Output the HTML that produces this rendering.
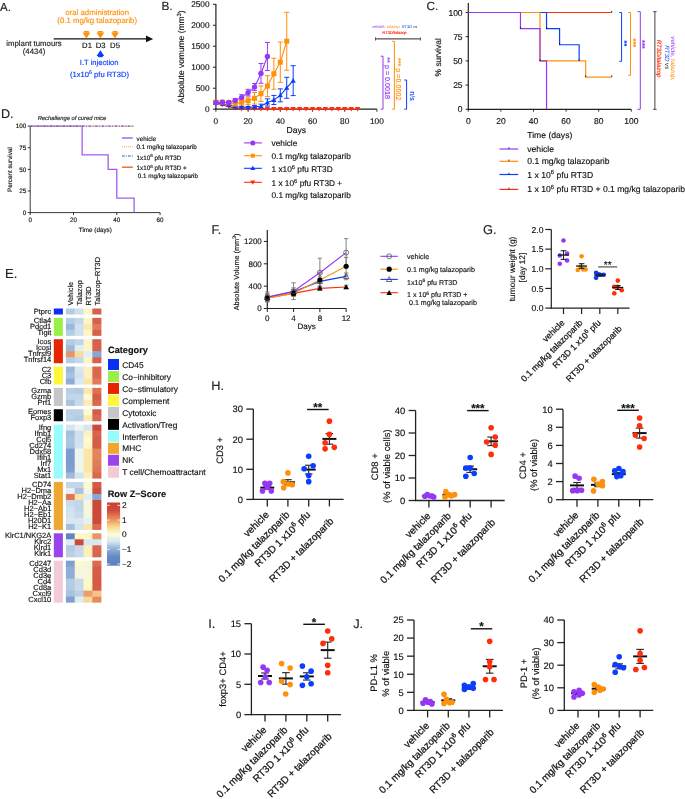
<!DOCTYPE html>
<html><head><meta charset="utf-8"><title>Figure</title>
<style>
html,body{margin:0;padding:0;background:#fff;}
body{width:685px;height:799px;overflow:hidden;font-family:"Liberation Sans",sans-serif;}
svg{display:block;will-change:transform;}
</style></head><body>
<svg width="685" height="799" viewBox="0 0 685 799" font-family="Liberation Sans, sans-serif" text-rendering="geometricPrecision">
<text x="0.00" y="11.20" font-size="11.5" fill="#222" stroke="#222" stroke-width="0.15">A.</text>
<text x="97.20" y="14.90" font-size="7.8" fill="#FF900A" stroke="#FF900A" stroke-width="0.15" text-anchor="middle">oral administration</text>
<text x="97.20" y="23.30" font-size="7.8" fill="#FF900A" stroke="#FF900A" stroke-width="0.15" text-anchor="middle">(0.1 mg/kg talazoparib)</text>
<line x1="53.70" y1="38.90" x2="147.50" y2="38.90" stroke="#111" stroke-width="1.3" />
<polygon points="146.00,35.60 153.20,38.90 146.00,42.20" fill="#111" stroke="none" stroke-width="0"/>
<polygon points="82.50,32.40 90.30,32.40 86.40,38.60" fill="#FF900A" stroke="none" stroke-width="0"/>
<rect x="84.00" y="31.00" width="4.80" height="1.60" fill="#FF900A"/>
<polygon points="96.50,32.40 104.30,32.40 100.40,38.60" fill="#FF900A" stroke="none" stroke-width="0"/>
<rect x="98.00" y="31.00" width="4.80" height="1.60" fill="#FF900A"/>
<polygon points="111.10,32.40 118.90,32.40 115.00,38.60" fill="#FF900A" stroke="none" stroke-width="0"/>
<rect x="112.60" y="31.00" width="4.80" height="1.60" fill="#FF900A"/>
<text x="87.00" y="48.20" font-size="7.7" fill="#111" stroke="#111" stroke-width="0.15" text-anchor="middle">D1</text>
<text x="100.60" y="48.20" font-size="7.7" fill="#111" stroke="#111" stroke-width="0.15" text-anchor="middle">D3</text>
<text x="115.00" y="48.20" font-size="7.7" fill="#111" stroke="#111" stroke-width="0.15" text-anchor="middle">D5</text>
<text x="34.00" y="46.30" font-size="7.8" fill="#222" stroke="#222" stroke-width="0.15" text-anchor="middle">implant tumours</text>
<text x="34.00" y="54.30" font-size="7.8" fill="#222" stroke="#222" stroke-width="0.15" text-anchor="middle">(4434)</text>
<polygon points="96.60,56.00 104.20,56.00 100.40,50.20" fill="#0B3DFF" stroke="none" stroke-width="0"/>
<rect x="98.00" y="55.60" width="4.80" height="1.60" fill="#0B3DFF"/>
<text x="99.20" y="65.20" font-size="7.6" fill="#0B3DFF" stroke="#0B3DFF" stroke-width="0.15" text-anchor="middle">I.T injection</text>
<text x="99.50" y="76.60" font-size="7.6" fill="#0B3DFF" stroke="#0B3DFF" stroke-width="0.15" text-anchor="middle">(1x10<tspan font-size="5.32" dy="-2.89">6</tspan><tspan dy="2.89"> pfu RT3D)</tspan></text>
<text x="161.50" y="10.20" font-size="11.8" fill="#222" stroke="#222" stroke-width="0.15">B.</text>
<line x1="215.90" y1="4.00" x2="215.90" y2="109.80" stroke="#222" stroke-width="1.2" />
<line x1="215.30" y1="109.20" x2="376.90" y2="109.20" stroke="#222" stroke-width="1.2" />
<line x1="212.90" y1="109.20" x2="215.90" y2="109.20" stroke="#222" stroke-width="1.0" />
<text x="209.60" y="112.10" font-size="8.3" fill="#111" stroke="#111" stroke-width="0.15" text-anchor="end">0</text>
<line x1="212.90" y1="88.22" x2="215.90" y2="88.22" stroke="#222" stroke-width="1.0" />
<text x="209.60" y="91.12" font-size="8.3" fill="#111" stroke="#111" stroke-width="0.15" text-anchor="end">500</text>
<line x1="212.90" y1="67.24" x2="215.90" y2="67.24" stroke="#222" stroke-width="1.0" />
<text x="209.60" y="70.14" font-size="8.3" fill="#111" stroke="#111" stroke-width="0.15" text-anchor="end">1000</text>
<line x1="212.90" y1="46.26" x2="215.90" y2="46.26" stroke="#222" stroke-width="1.0" />
<text x="209.60" y="49.16" font-size="8.3" fill="#111" stroke="#111" stroke-width="0.15" text-anchor="end">1500</text>
<line x1="212.90" y1="25.28" x2="215.90" y2="25.28" stroke="#222" stroke-width="1.0" />
<text x="209.60" y="28.18" font-size="8.3" fill="#111" stroke="#111" stroke-width="0.15" text-anchor="end">2000</text>
<line x1="212.90" y1="4.30" x2="215.90" y2="4.30" stroke="#222" stroke-width="1.0" />
<text x="209.60" y="7.20" font-size="8.3" fill="#111" stroke="#111" stroke-width="0.15" text-anchor="end">2500</text>
<line x1="215.90" y1="109.20" x2="215.90" y2="111.80" stroke="#222" stroke-width="0.9" />
<text x="215.90" y="123.50" font-size="8.3" fill="#111" stroke="#111" stroke-width="0.15" text-anchor="middle">0</text>
<line x1="248.10" y1="109.20" x2="248.10" y2="111.80" stroke="#222" stroke-width="0.9" />
<text x="248.10" y="123.50" font-size="8.3" fill="#111" stroke="#111" stroke-width="0.15" text-anchor="middle">20</text>
<line x1="280.30" y1="109.20" x2="280.30" y2="111.80" stroke="#222" stroke-width="0.9" />
<text x="280.30" y="123.50" font-size="8.3" fill="#111" stroke="#111" stroke-width="0.15" text-anchor="middle">40</text>
<line x1="312.50" y1="109.20" x2="312.50" y2="111.80" stroke="#222" stroke-width="0.9" />
<text x="312.50" y="123.50" font-size="8.3" fill="#111" stroke="#111" stroke-width="0.15" text-anchor="middle">60</text>
<line x1="344.70" y1="109.20" x2="344.70" y2="111.80" stroke="#222" stroke-width="0.9" />
<text x="344.70" y="123.50" font-size="8.3" fill="#111" stroke="#111" stroke-width="0.15" text-anchor="middle">80</text>
<line x1="376.90" y1="109.20" x2="376.90" y2="111.80" stroke="#222" stroke-width="0.9" />
<text x="376.90" y="123.50" font-size="8.3" fill="#111" stroke="#111" stroke-width="0.15" text-anchor="middle">100</text>
<text x="296.30" y="133.00" font-size="8.6" fill="#111" stroke="#111" stroke-width="0.15" text-anchor="middle">Days</text>
<text x="184.20" y="56.80" font-size="8.45" fill="#111" stroke="#111" stroke-width="0.15" text-anchor="middle" transform="rotate(-90 184.20 56.80)">Absolute vomume (mm<tspan font-size="5.91" dy="-3.20">3</tspan><tspan dy="3.20">)</tspan></text>
<polyline points="215.90,102.91 222.34,105.00 228.78,106.68 235.22,108.36 241.66,109.20 248.10,109.20 254.54,109.20 260.98,109.20 267.42,109.20 273.86,109.20 280.30,109.20 286.74,109.20 293.18,109.20 299.62,109.20 306.06,109.20 312.50,109.20 318.94,109.20 325.38,109.20 331.82,109.20 338.26,109.20 344.70,109.20 351.14,109.20 357.58,109.20" fill="none" stroke="#FF2D0A" stroke-width="1.1"/>
<polyline points="215.90,102.91 222.34,103.75 228.78,105.00 235.22,106.68 241.66,107.31 248.10,107.31 254.54,106.89 260.98,106.26 267.42,102.49 273.86,99.97 280.30,95.35 286.74,87.80 293.18,80.67" fill="none" stroke="#0B3DFF" stroke-width="1.1"/>
<line x1="215.90" y1="102.07" x2="215.90" y2="103.75" stroke="#0B3DFF" stroke-width="1.0" />
<line x1="213.40" y1="102.07" x2="218.40" y2="102.07" stroke="#0B3DFF" stroke-width="1.0" />
<line x1="213.40" y1="103.75" x2="218.40" y2="103.75" stroke="#0B3DFF" stroke-width="1.0" />
<line x1="222.34" y1="102.91" x2="222.34" y2="104.58" stroke="#0B3DFF" stroke-width="1.0" />
<line x1="219.84" y1="102.91" x2="224.84" y2="102.91" stroke="#0B3DFF" stroke-width="1.0" />
<line x1="219.84" y1="104.58" x2="224.84" y2="104.58" stroke="#0B3DFF" stroke-width="1.0" />
<line x1="228.78" y1="104.16" x2="228.78" y2="105.84" stroke="#0B3DFF" stroke-width="1.0" />
<line x1="226.28" y1="104.16" x2="231.28" y2="104.16" stroke="#0B3DFF" stroke-width="1.0" />
<line x1="226.28" y1="105.84" x2="231.28" y2="105.84" stroke="#0B3DFF" stroke-width="1.0" />
<line x1="235.22" y1="105.84" x2="235.22" y2="107.52" stroke="#0B3DFF" stroke-width="1.0" />
<line x1="232.72" y1="105.84" x2="237.72" y2="105.84" stroke="#0B3DFF" stroke-width="1.0" />
<line x1="232.72" y1="107.52" x2="237.72" y2="107.52" stroke="#0B3DFF" stroke-width="1.0" />
<line x1="241.66" y1="106.47" x2="241.66" y2="108.15" stroke="#0B3DFF" stroke-width="1.0" />
<line x1="239.16" y1="106.47" x2="244.16" y2="106.47" stroke="#0B3DFF" stroke-width="1.0" />
<line x1="239.16" y1="108.15" x2="244.16" y2="108.15" stroke="#0B3DFF" stroke-width="1.0" />
<line x1="248.10" y1="106.47" x2="248.10" y2="108.15" stroke="#0B3DFF" stroke-width="1.0" />
<line x1="245.60" y1="106.47" x2="250.60" y2="106.47" stroke="#0B3DFF" stroke-width="1.0" />
<line x1="245.60" y1="108.15" x2="250.60" y2="108.15" stroke="#0B3DFF" stroke-width="1.0" />
<line x1="254.54" y1="105.63" x2="254.54" y2="108.15" stroke="#0B3DFF" stroke-width="1.0" />
<line x1="252.04" y1="105.63" x2="257.04" y2="105.63" stroke="#0B3DFF" stroke-width="1.0" />
<line x1="252.04" y1="108.15" x2="257.04" y2="108.15" stroke="#0B3DFF" stroke-width="1.0" />
<line x1="260.98" y1="104.16" x2="260.98" y2="108.36" stroke="#0B3DFF" stroke-width="1.0" />
<line x1="258.48" y1="104.16" x2="263.48" y2="104.16" stroke="#0B3DFF" stroke-width="1.0" />
<line x1="258.48" y1="108.36" x2="263.48" y2="108.36" stroke="#0B3DFF" stroke-width="1.0" />
<line x1="267.42" y1="98.88" x2="267.42" y2="106.09" stroke="#0B3DFF" stroke-width="1.0" />
<line x1="264.92" y1="98.88" x2="269.92" y2="98.88" stroke="#0B3DFF" stroke-width="1.0" />
<line x1="264.92" y1="106.09" x2="269.92" y2="106.09" stroke="#0B3DFF" stroke-width="1.0" />
<line x1="273.86" y1="95.44" x2="273.86" y2="104.50" stroke="#0B3DFF" stroke-width="1.0" />
<line x1="271.36" y1="95.44" x2="276.36" y2="95.44" stroke="#0B3DFF" stroke-width="1.0" />
<line x1="271.36" y1="104.50" x2="276.36" y2="104.50" stroke="#0B3DFF" stroke-width="1.0" />
<line x1="280.30" y1="88.89" x2="280.30" y2="101.82" stroke="#0B3DFF" stroke-width="1.0" />
<line x1="277.80" y1="88.89" x2="282.80" y2="88.89" stroke="#0B3DFF" stroke-width="1.0" />
<line x1="277.80" y1="101.82" x2="282.80" y2="101.82" stroke="#0B3DFF" stroke-width="1.0" />
<line x1="286.74" y1="77.31" x2="286.74" y2="98.29" stroke="#0B3DFF" stroke-width="1.0" />
<line x1="284.24" y1="77.31" x2="289.24" y2="77.31" stroke="#0B3DFF" stroke-width="1.0" />
<line x1="284.24" y1="98.29" x2="289.24" y2="98.29" stroke="#0B3DFF" stroke-width="1.0" />
<line x1="293.18" y1="65.73" x2="293.18" y2="95.60" stroke="#0B3DFF" stroke-width="1.0" />
<line x1="290.68" y1="65.73" x2="295.68" y2="65.73" stroke="#0B3DFF" stroke-width="1.0" />
<line x1="290.68" y1="95.60" x2="295.68" y2="95.60" stroke="#0B3DFF" stroke-width="1.0" />
<polyline points="215.90,102.19 222.34,102.19 228.78,102.70 235.22,103.95 241.66,102.19 248.10,100.81 254.54,98.29 260.98,93.67 267.42,86.12 273.86,73.74 280.30,62.20 286.74,41.22" fill="none" stroke="#FF900A" stroke-width="1.1"/>
<line x1="215.90" y1="100.51" x2="215.90" y2="103.87" stroke="#FF900A" stroke-width="1.0" />
<line x1="213.40" y1="100.51" x2="218.40" y2="100.51" stroke="#FF900A" stroke-width="1.0" />
<line x1="213.40" y1="103.87" x2="218.40" y2="103.87" stroke="#FF900A" stroke-width="1.0" />
<line x1="222.34" y1="100.51" x2="222.34" y2="103.87" stroke="#FF900A" stroke-width="1.0" />
<line x1="219.84" y1="100.51" x2="224.84" y2="100.51" stroke="#FF900A" stroke-width="1.0" />
<line x1="219.84" y1="103.87" x2="224.84" y2="103.87" stroke="#FF900A" stroke-width="1.0" />
<line x1="228.78" y1="101.02" x2="228.78" y2="104.37" stroke="#FF900A" stroke-width="1.0" />
<line x1="226.28" y1="101.02" x2="231.28" y2="101.02" stroke="#FF900A" stroke-width="1.0" />
<line x1="226.28" y1="104.37" x2="231.28" y2="104.37" stroke="#FF900A" stroke-width="1.0" />
<line x1="235.22" y1="101.86" x2="235.22" y2="106.05" stroke="#FF900A" stroke-width="1.0" />
<line x1="232.72" y1="101.86" x2="237.72" y2="101.86" stroke="#FF900A" stroke-width="1.0" />
<line x1="232.72" y1="106.05" x2="237.72" y2="106.05" stroke="#FF900A" stroke-width="1.0" />
<line x1="241.66" y1="99.26" x2="241.66" y2="105.13" stroke="#FF900A" stroke-width="1.0" />
<line x1="239.16" y1="99.26" x2="244.16" y2="99.26" stroke="#FF900A" stroke-width="1.0" />
<line x1="239.16" y1="105.13" x2="244.16" y2="105.13" stroke="#FF900A" stroke-width="1.0" />
<line x1="248.10" y1="97.03" x2="248.10" y2="104.58" stroke="#FF900A" stroke-width="1.0" />
<line x1="245.60" y1="97.03" x2="250.60" y2="97.03" stroke="#FF900A" stroke-width="1.0" />
<line x1="245.60" y1="104.58" x2="250.60" y2="104.58" stroke="#FF900A" stroke-width="1.0" />
<line x1="254.54" y1="92.54" x2="254.54" y2="104.04" stroke="#FF900A" stroke-width="1.0" />
<line x1="252.04" y1="92.54" x2="257.04" y2="92.54" stroke="#FF900A" stroke-width="1.0" />
<line x1="252.04" y1="104.04" x2="257.04" y2="104.04" stroke="#FF900A" stroke-width="1.0" />
<line x1="260.98" y1="85.91" x2="260.98" y2="101.44" stroke="#FF900A" stroke-width="1.0" />
<line x1="258.48" y1="85.91" x2="263.48" y2="85.91" stroke="#FF900A" stroke-width="1.0" />
<line x1="258.48" y1="101.44" x2="263.48" y2="101.44" stroke="#FF900A" stroke-width="1.0" />
<line x1="267.42" y1="75.63" x2="267.42" y2="96.61" stroke="#FF900A" stroke-width="1.0" />
<line x1="264.92" y1="75.63" x2="269.92" y2="75.63" stroke="#FF900A" stroke-width="1.0" />
<line x1="264.92" y1="96.61" x2="269.92" y2="96.61" stroke="#FF900A" stroke-width="1.0" />
<line x1="273.86" y1="58.22" x2="273.86" y2="89.27" stroke="#FF900A" stroke-width="1.0" />
<line x1="271.36" y1="58.22" x2="276.36" y2="58.22" stroke="#FF900A" stroke-width="1.0" />
<line x1="271.36" y1="89.27" x2="276.36" y2="89.27" stroke="#FF900A" stroke-width="1.0" />
<line x1="280.30" y1="42.06" x2="280.30" y2="82.35" stroke="#FF900A" stroke-width="1.0" />
<line x1="277.80" y1="42.06" x2="282.80" y2="42.06" stroke="#FF900A" stroke-width="1.0" />
<line x1="277.80" y1="82.35" x2="282.80" y2="82.35" stroke="#FF900A" stroke-width="1.0" />
<line x1="286.74" y1="12.27" x2="286.74" y2="70.18" stroke="#FF900A" stroke-width="1.0" />
<line x1="284.24" y1="12.27" x2="289.24" y2="12.27" stroke="#FF900A" stroke-width="1.0" />
<line x1="284.24" y1="70.18" x2="289.24" y2="70.18" stroke="#FF900A" stroke-width="1.0" />
<polyline points="215.90,102.70 222.34,102.19 228.78,102.49 235.22,100.51 241.66,97.62 248.10,92.58 254.54,87.09 260.98,73.41 267.42,56.50" fill="none" stroke="#9538F5" stroke-width="1.1"/>
<line x1="215.90" y1="101.23" x2="215.90" y2="104.16" stroke="#9538F5" stroke-width="1.0" />
<line x1="213.40" y1="101.23" x2="218.40" y2="101.23" stroke="#9538F5" stroke-width="1.0" />
<line x1="213.40" y1="104.16" x2="218.40" y2="104.16" stroke="#9538F5" stroke-width="1.0" />
<line x1="222.34" y1="100.93" x2="222.34" y2="103.45" stroke="#9538F5" stroke-width="1.0" />
<line x1="219.84" y1="100.93" x2="224.84" y2="100.93" stroke="#9538F5" stroke-width="1.0" />
<line x1="219.84" y1="103.45" x2="224.84" y2="103.45" stroke="#9538F5" stroke-width="1.0" />
<line x1="228.78" y1="101.23" x2="228.78" y2="103.75" stroke="#9538F5" stroke-width="1.0" />
<line x1="226.28" y1="101.23" x2="231.28" y2="101.23" stroke="#9538F5" stroke-width="1.0" />
<line x1="226.28" y1="103.75" x2="231.28" y2="103.75" stroke="#9538F5" stroke-width="1.0" />
<line x1="235.22" y1="98.84" x2="235.22" y2="102.19" stroke="#9538F5" stroke-width="1.0" />
<line x1="232.72" y1="98.84" x2="237.72" y2="98.84" stroke="#9538F5" stroke-width="1.0" />
<line x1="232.72" y1="102.19" x2="237.72" y2="102.19" stroke="#9538F5" stroke-width="1.0" />
<line x1="241.66" y1="94.68" x2="241.66" y2="100.56" stroke="#9538F5" stroke-width="1.0" />
<line x1="239.16" y1="94.68" x2="244.16" y2="94.68" stroke="#9538F5" stroke-width="1.0" />
<line x1="239.16" y1="100.56" x2="244.16" y2="100.56" stroke="#9538F5" stroke-width="1.0" />
<line x1="248.10" y1="89.31" x2="248.10" y2="95.86" stroke="#9538F5" stroke-width="1.0" />
<line x1="245.60" y1="89.31" x2="250.60" y2="89.31" stroke="#9538F5" stroke-width="1.0" />
<line x1="245.60" y1="95.86" x2="250.60" y2="95.86" stroke="#9538F5" stroke-width="1.0" />
<line x1="254.54" y1="83.52" x2="254.54" y2="90.65" stroke="#9538F5" stroke-width="1.0" />
<line x1="252.04" y1="83.52" x2="257.04" y2="83.52" stroke="#9538F5" stroke-width="1.0" />
<line x1="252.04" y1="90.65" x2="257.04" y2="90.65" stroke="#9538F5" stroke-width="1.0" />
<line x1="260.98" y1="63.55" x2="260.98" y2="83.27" stroke="#9538F5" stroke-width="1.0" />
<line x1="258.48" y1="63.55" x2="263.48" y2="63.55" stroke="#9538F5" stroke-width="1.0" />
<line x1="258.48" y1="83.27" x2="263.48" y2="83.27" stroke="#9538F5" stroke-width="1.0" />
<line x1="267.42" y1="42.44" x2="267.42" y2="70.55" stroke="#9538F5" stroke-width="1.0" />
<line x1="264.92" y1="42.44" x2="269.92" y2="42.44" stroke="#9538F5" stroke-width="1.0" />
<line x1="264.92" y1="70.55" x2="269.92" y2="70.55" stroke="#9538F5" stroke-width="1.0" />
<polygon points="213.30,100.71 218.50,100.71 215.90,105.11" fill="#FF2D0A" stroke="none" stroke-width="0"/>
<polygon points="219.74,102.80 224.94,102.80 222.34,107.20" fill="#FF2D0A" stroke="none" stroke-width="0"/>
<polygon points="226.18,104.48 231.38,104.48 228.78,108.88" fill="#FF2D0A" stroke="none" stroke-width="0"/>
<polygon points="232.62,106.16 237.82,106.16 235.22,110.56" fill="#FF2D0A" stroke="none" stroke-width="0"/>
<polygon points="239.06,107.00 244.26,107.00 241.66,111.40" fill="#FF2D0A" stroke="none" stroke-width="0"/>
<polygon points="245.50,107.00 250.70,107.00 248.10,111.40" fill="#FF2D0A" stroke="none" stroke-width="0"/>
<polygon points="251.94,107.00 257.14,107.00 254.54,111.40" fill="#FF2D0A" stroke="none" stroke-width="0"/>
<polygon points="258.38,107.00 263.58,107.00 260.98,111.40" fill="#FF2D0A" stroke="none" stroke-width="0"/>
<polygon points="264.82,107.00 270.02,107.00 267.42,111.40" fill="#FF2D0A" stroke="none" stroke-width="0"/>
<polygon points="271.26,107.00 276.46,107.00 273.86,111.40" fill="#FF2D0A" stroke="none" stroke-width="0"/>
<polygon points="277.70,107.00 282.90,107.00 280.30,111.40" fill="#FF2D0A" stroke="none" stroke-width="0"/>
<polygon points="284.14,107.00 289.34,107.00 286.74,111.40" fill="#FF2D0A" stroke="none" stroke-width="0"/>
<polygon points="290.58,107.00 295.78,107.00 293.18,111.40" fill="#FF2D0A" stroke="none" stroke-width="0"/>
<polygon points="297.02,107.00 302.22,107.00 299.62,111.40" fill="#FF2D0A" stroke="none" stroke-width="0"/>
<polygon points="303.46,107.00 308.66,107.00 306.06,111.40" fill="#FF2D0A" stroke="none" stroke-width="0"/>
<polygon points="309.90,107.00 315.10,107.00 312.50,111.40" fill="#FF2D0A" stroke="none" stroke-width="0"/>
<polygon points="316.34,107.00 321.54,107.00 318.94,111.40" fill="#FF2D0A" stroke="none" stroke-width="0"/>
<polygon points="322.78,107.00 327.98,107.00 325.38,111.40" fill="#FF2D0A" stroke="none" stroke-width="0"/>
<polygon points="329.22,107.00 334.42,107.00 331.82,111.40" fill="#FF2D0A" stroke="none" stroke-width="0"/>
<polygon points="335.66,107.00 340.86,107.00 338.26,111.40" fill="#FF2D0A" stroke="none" stroke-width="0"/>
<polygon points="342.10,107.00 347.30,107.00 344.70,111.40" fill="#FF2D0A" stroke="none" stroke-width="0"/>
<polygon points="348.54,107.00 353.74,107.00 351.14,111.40" fill="#FF2D0A" stroke="none" stroke-width="0"/>
<polygon points="354.98,107.00 360.18,107.00 357.58,111.40" fill="#FF2D0A" stroke="none" stroke-width="0"/>
<polygon points="213.30,104.91 218.50,104.91 215.90,100.31" fill="#0B3DFF" stroke="none" stroke-width="0"/>
<polygon points="219.74,105.75 224.94,105.75 222.34,101.15" fill="#0B3DFF" stroke="none" stroke-width="0"/>
<polygon points="226.18,107.00 231.38,107.00 228.78,102.40" fill="#0B3DFF" stroke="none" stroke-width="0"/>
<polygon points="232.62,108.68 237.82,108.68 235.22,104.08" fill="#0B3DFF" stroke="none" stroke-width="0"/>
<polygon points="239.06,109.31 244.26,109.31 241.66,104.71" fill="#0B3DFF" stroke="none" stroke-width="0"/>
<polygon points="245.50,109.31 250.70,109.31 248.10,104.71" fill="#0B3DFF" stroke="none" stroke-width="0"/>
<polygon points="251.94,108.89 257.14,108.89 254.54,104.29" fill="#0B3DFF" stroke="none" stroke-width="0"/>
<polygon points="258.38,108.26 263.58,108.26 260.98,103.66" fill="#0B3DFF" stroke="none" stroke-width="0"/>
<polygon points="264.82,104.49 270.02,104.49 267.42,99.89" fill="#0B3DFF" stroke="none" stroke-width="0"/>
<polygon points="271.26,101.97 276.46,101.97 273.86,97.37" fill="#0B3DFF" stroke="none" stroke-width="0"/>
<polygon points="277.70,97.35 282.90,97.35 280.30,92.75" fill="#0B3DFF" stroke="none" stroke-width="0"/>
<polygon points="284.14,89.80 289.34,89.80 286.74,85.20" fill="#0B3DFF" stroke="none" stroke-width="0"/>
<polygon points="290.58,82.67 295.78,82.67 293.18,78.07" fill="#0B3DFF" stroke="none" stroke-width="0"/>
<rect x="213.40" y="99.69" width="5.00" height="5.00" fill="#FF900A"/>
<rect x="219.84" y="99.69" width="5.00" height="5.00" fill="#FF900A"/>
<rect x="226.28" y="100.20" width="5.00" height="5.00" fill="#FF900A"/>
<rect x="232.72" y="101.45" width="5.00" height="5.00" fill="#FF900A"/>
<rect x="239.16" y="99.69" width="5.00" height="5.00" fill="#FF900A"/>
<rect x="245.60" y="98.31" width="5.00" height="5.00" fill="#FF900A"/>
<rect x="252.04" y="95.79" width="5.00" height="5.00" fill="#FF900A"/>
<rect x="258.48" y="91.17" width="5.00" height="5.00" fill="#FF900A"/>
<rect x="264.92" y="83.62" width="5.00" height="5.00" fill="#FF900A"/>
<rect x="271.36" y="71.24" width="5.00" height="5.00" fill="#FF900A"/>
<rect x="277.80" y="59.70" width="5.00" height="5.00" fill="#FF900A"/>
<rect x="284.24" y="38.72" width="5.00" height="5.00" fill="#FF900A"/>
<circle cx="215.90" cy="102.70" r="2.7" fill="#9538F5" stroke="none" stroke-width="0"/>
<circle cx="222.34" cy="102.19" r="2.7" fill="#9538F5" stroke="none" stroke-width="0"/>
<circle cx="228.78" cy="102.49" r="2.7" fill="#9538F5" stroke="none" stroke-width="0"/>
<circle cx="235.22" cy="100.51" r="2.7" fill="#9538F5" stroke="none" stroke-width="0"/>
<circle cx="241.66" cy="97.62" r="2.7" fill="#9538F5" stroke="none" stroke-width="0"/>
<circle cx="248.10" cy="92.58" r="2.7" fill="#9538F5" stroke="none" stroke-width="0"/>
<circle cx="254.54" cy="87.09" r="2.7" fill="#9538F5" stroke="none" stroke-width="0"/>
<circle cx="260.98" cy="73.41" r="2.7" fill="#9538F5" stroke="none" stroke-width="0"/>
<circle cx="267.42" cy="56.50" r="2.7" fill="#9538F5" stroke="none" stroke-width="0"/>
<line x1="243.90" y1="142.90" x2="261.90" y2="142.90" stroke="#9538F5" stroke-width="1.1" />
<circle cx="252.80" cy="142.90" r="2.5" fill="#9538F5" stroke="none" stroke-width="0"/>
<line x1="243.90" y1="155.70" x2="261.90" y2="155.70" stroke="#FF900A" stroke-width="1.1" />
<rect x="250.80" y="153.70" width="4.00" height="4.00" fill="#FF900A"/>
<line x1="243.90" y1="168.30" x2="261.90" y2="168.30" stroke="#0B3DFF" stroke-width="1.1" />
<polygon points="250.30,170.10 255.30,170.10 252.80,165.80" fill="#0B3DFF" stroke="none" stroke-width="0"/>
<line x1="243.90" y1="182.30" x2="261.90" y2="182.30" stroke="#FF2D0A" stroke-width="1.1" />
<polygon points="250.30,180.50 255.30,180.50 252.80,184.80" fill="#FF2D0A" stroke="none" stroke-width="0"/>
<text x="271.50" y="145.50" font-size="8.3" fill="#111" stroke="#111" stroke-width="0.15">vehicle</text>
<text x="271.50" y="158.70" font-size="8.3" fill="#111" stroke="#111" stroke-width="0.15">0.1 mg/kg talazoparib</text>
<text x="271.50" y="171.80" font-size="8.3" fill="#111" stroke="#111" stroke-width="0.15">1 x10<tspan font-size="5.81" dy="-3.15">6</tspan><tspan dy="3.15"> pfu RT3D</tspan></text>
<text x="271.50" y="186.40" font-size="8.3" fill="#111" stroke="#111" stroke-width="0.15">1 x 10<tspan font-size="5.81" dy="-3.15">6</tspan><tspan dy="3.15"> pfu RT3D +</tspan></text>
<text x="271.50" y="197.70" font-size="8.3" fill="#111" stroke="#111" stroke-width="0.15">0.1 mg/kg talazoparib</text>
<path d="M380.70,56.20 H383.00 V109.20 H380.70" stroke="#9538F5" stroke-width="1.0" fill="none" />
<path d="M392.10,41.30 H394.40 V109.20 H392.10" stroke="#FF900A" stroke-width="1.0" fill="none" />
<path d="M404.30,80.00 H406.60 V109.20 H404.30" stroke="#0B3DFF" stroke-width="1.0" fill="none" />
<line x1="375.50" y1="38.90" x2="420.40" y2="38.90" stroke="#555" stroke-width="1.1" />
<line x1="375.50" y1="37.30" x2="375.50" y2="40.50" stroke="#555" stroke-width="1.0" />
<line x1="420.40" y1="37.30" x2="420.40" y2="40.50" stroke="#555" stroke-width="1.0" />
<text x="385.30" y="57.30" font-size="7.2" fill="#9538F5" stroke="#9538F5" stroke-width="0.15" transform="rotate(90 385.30 57.30)">** p = 0.0018</text>
<text x="395.80" y="57.90" font-size="7.2" fill="#FF900A" stroke="#FF900A" stroke-width="0.15" transform="rotate(90 395.80 57.90)">*** p =0.0002</text>
<text x="409.60" y="91.30" font-size="7.2" fill="#0B3DFF" stroke="#0B3DFF" stroke-width="0.15" transform="rotate(90 409.60 91.30)">n/s</text>
<text x="372" y="28.4" font-size="4.0" font-style="italic" fill="#9538F5">vehicle,<tspan fill="#FF900A"> talazop,</tspan><tspan fill="#0B3DFF"> RT3D</tspan><tspan fill="#222"> vs</tspan></text>
<text x="394.40" y="34.00" font-size="4.0" fill="#FF2D0A" stroke="#FF2D0A" stroke-width="0.15" text-anchor="middle" font-style="italic">RT3D/talazop</text>
<text x="426.50" y="10.20" font-size="11.8" fill="#222" stroke="#222" stroke-width="0.15">C.</text>
<line x1="468.30" y1="2.90" x2="468.30" y2="109.90" stroke="#222" stroke-width="1.2" />
<line x1="467.70" y1="109.30" x2="631.30" y2="109.30" stroke="#222" stroke-width="1.2" />
<line x1="465.70" y1="109.30" x2="468.30" y2="109.30" stroke="#222" stroke-width="1.0" />
<text x="462.60" y="112.30" font-size="8.5" fill="#111" stroke="#111" stroke-width="0.15" text-anchor="end">0</text>
<line x1="465.70" y1="85.10" x2="468.30" y2="85.10" stroke="#222" stroke-width="1.0" />
<text x="462.60" y="88.10" font-size="8.5" fill="#111" stroke="#111" stroke-width="0.15" text-anchor="end">25</text>
<line x1="465.70" y1="60.90" x2="468.30" y2="60.90" stroke="#222" stroke-width="1.0" />
<text x="462.60" y="63.90" font-size="8.5" fill="#111" stroke="#111" stroke-width="0.15" text-anchor="end">50</text>
<line x1="465.70" y1="36.70" x2="468.30" y2="36.70" stroke="#222" stroke-width="1.0" />
<text x="462.60" y="39.70" font-size="8.5" fill="#111" stroke="#111" stroke-width="0.15" text-anchor="end">75</text>
<line x1="465.70" y1="12.50" x2="468.30" y2="12.50" stroke="#222" stroke-width="1.0" />
<text x="462.60" y="15.50" font-size="8.5" fill="#111" stroke="#111" stroke-width="0.15" text-anchor="end">100</text>
<line x1="468.30" y1="109.30" x2="468.30" y2="111.70" stroke="#222" stroke-width="0.9" />
<text x="468.30" y="123.60" font-size="8.5" fill="#111" stroke="#111" stroke-width="0.15" text-anchor="middle">0</text>
<line x1="500.90" y1="109.30" x2="500.90" y2="111.70" stroke="#222" stroke-width="0.9" />
<text x="500.90" y="123.60" font-size="8.5" fill="#111" stroke="#111" stroke-width="0.15" text-anchor="middle">20</text>
<line x1="533.50" y1="109.30" x2="533.50" y2="111.70" stroke="#222" stroke-width="0.9" />
<text x="533.50" y="123.60" font-size="8.5" fill="#111" stroke="#111" stroke-width="0.15" text-anchor="middle">40</text>
<line x1="566.10" y1="109.30" x2="566.10" y2="111.70" stroke="#222" stroke-width="0.9" />
<text x="566.10" y="123.60" font-size="8.5" fill="#111" stroke="#111" stroke-width="0.15" text-anchor="middle">60</text>
<line x1="598.70" y1="109.30" x2="598.70" y2="111.70" stroke="#222" stroke-width="0.9" />
<text x="598.70" y="123.60" font-size="8.5" fill="#111" stroke="#111" stroke-width="0.15" text-anchor="middle">80</text>
<line x1="631.30" y1="109.30" x2="631.30" y2="111.70" stroke="#222" stroke-width="0.9" />
<text x="631.30" y="123.60" font-size="8.5" fill="#111" stroke="#111" stroke-width="0.15" text-anchor="middle">100</text>
<text x="549.80" y="138.00" font-size="8.6" fill="#111" stroke="#111" stroke-width="0.15" text-anchor="middle">Time (days)</text>
<text x="441.50" y="57.30" font-size="8.4" fill="#111" stroke="#111" stroke-width="0.15" text-anchor="middle" transform="rotate(-90 441.50 57.30)">% survival</text>
<path d="M468.30,12.50 H611.74" stroke="#FF2D0A" stroke-width="1.2" fill="none" />
<path d="M468.30,12.50 H546.54 V28.67 H559.58 V44.73 H579.14 V60.90 H579.14" stroke="#0B3DFF" stroke-width="1.2" fill="none" />
<path d="M468.30,12.50 H540.02 V60.90 H585.66 V77.07 H611.74" stroke="#FF900A" stroke-width="1.2" fill="none" />
<path d="M468.30,12.50 H520.46 V28.67 H540.02 V60.90 H546.54 V109.30" stroke="#9538F5" stroke-width="1.2" fill="none" />
<line x1="520.46" y1="27.07" x2="520.46" y2="28.67" stroke="#111" stroke-width="0.9" />
<line x1="540.02" y1="59.30" x2="540.02" y2="60.90" stroke="#111" stroke-width="0.9" />
<line x1="546.54" y1="27.07" x2="546.54" y2="28.67" stroke="#111" stroke-width="0.9" />
<line x1="559.58" y1="43.13" x2="559.58" y2="44.73" stroke="#111" stroke-width="0.9" />
<line x1="579.14" y1="59.30" x2="579.14" y2="60.90" stroke="#111" stroke-width="0.9" />
<line x1="585.66" y1="75.47" x2="585.66" y2="77.07" stroke="#111" stroke-width="0.9" />
<line x1="611.74" y1="75.47" x2="611.74" y2="77.07" stroke="#111" stroke-width="0.9" />
<line x1="611.74" y1="10.90" x2="611.74" y2="12.50" stroke="#111" stroke-width="0.9" />
<path d="M619.30,12.50 H621.60 V61.30 H619.30" stroke="#0B3DFF" stroke-width="1.0" fill="none" />
<path d="M628.20,12.50 H630.50 V75.30 H628.20" stroke="#FF900A" stroke-width="1.0" fill="none" />
<path d="M637.50,11.70 H640.30 V109.30 H637.50" stroke="#9538F5" stroke-width="1.0" fill="none" />
<line x1="654.90" y1="11.70" x2="654.90" y2="109.30" stroke="#444" stroke-width="1.0" />
<line x1="653.20" y1="11.70" x2="656.60" y2="11.70" stroke="#444" stroke-width="1.0" />
<line x1="653.20" y1="109.30" x2="656.60" y2="109.30" stroke="#444" stroke-width="1.0" />
<text x="621.60" y="43.40" font-size="7.2" fill="#0B3DFF" stroke="#0B3DFF" stroke-width="0.15" text-anchor="middle" font-weight="bold" transform="rotate(90 621.60 43.40)">**</text>
<text x="631.00" y="42.80" font-size="7.2" fill="#FF900A" stroke="#FF900A" stroke-width="0.15" text-anchor="middle" font-weight="bold" transform="rotate(90 631.00 42.80)">***</text>
<text x="640.20" y="44.30" font-size="7.2" fill="#9538F5" stroke="#9538F5" stroke-width="0.15" text-anchor="middle" font-weight="bold" transform="rotate(90 640.20 44.30)">***</text>
<text x="671.0" y="58.5" font-size="6.2" font-style="italic" fill="#9538F5" text-anchor="middle" transform="rotate(90 671.0 58.5)">vehicle,<tspan fill="#FF900A"> talazop,</tspan></text>
<text x="664.5" y="57.3" font-size="6.2" font-style="italic" fill="#0B3DFF" text-anchor="middle" transform="rotate(90 664.5 57.3)">RT3D<tspan fill="#222"> vs</tspan></text>
<text x="656.60" y="58.50" font-size="6.2" fill="#FF2D0A" stroke="#FF2D0A" stroke-width="0.15" text-anchor="middle" font-style="italic" transform="rotate(90 656.60 58.50)">RT3D/talazop</text>
<line x1="499.50" y1="149.00" x2="518.30" y2="149.00" stroke="#9538F5" stroke-width="1.2" />
<line x1="508.90" y1="147.20" x2="508.90" y2="149.00" stroke="#222" stroke-width="0.9" />
<text x="527.30" y="152.00" font-size="8.6" fill="#111" stroke="#111" stroke-width="0.15">vehicle</text>
<line x1="499.50" y1="161.30" x2="518.30" y2="161.30" stroke="#FF900A" stroke-width="1.2" />
<line x1="508.90" y1="159.50" x2="508.90" y2="161.30" stroke="#222" stroke-width="0.9" />
<text x="527.30" y="164.30" font-size="8.6" fill="#111" stroke="#111" stroke-width="0.15">0.1 mg/kg talazoparib</text>
<line x1="499.50" y1="174.50" x2="518.30" y2="174.50" stroke="#0B3DFF" stroke-width="1.2" />
<line x1="508.90" y1="172.70" x2="508.90" y2="174.50" stroke="#222" stroke-width="0.9" />
<text x="527.30" y="177.50" font-size="8.6" fill="#111" stroke="#111" stroke-width="0.15">1 x 10<tspan font-size="6.02" dy="-3.27">6</tspan><tspan dy="3.27"> pfu RT3D</tspan></text>
<line x1="499.50" y1="189.40" x2="518.30" y2="189.40" stroke="#FF2D0A" stroke-width="1.2" />
<line x1="508.90" y1="187.60" x2="508.90" y2="189.40" stroke="#222" stroke-width="0.9" />
<text x="527.30" y="192.40" font-size="8.6" fill="#111" stroke="#111" stroke-width="0.15">1 x 10<tspan font-size="6.02" dy="-3.27">6</tspan><tspan dy="3.27"> pfu RT3D + 0.1 mg/kg talazoparib</tspan></text>
<text x="1.00" y="117.80" font-size="12.6" fill="#222" stroke="#222" stroke-width="0.15">D.</text>
<text x="37.70" y="119.60" font-size="5.8" fill="#222" stroke="#222" stroke-width="0.15" font-style="italic">Rechallenge of cured mice</text>
<line x1="30.20" y1="126.10" x2="30.20" y2="213.10" stroke="#3a3a3a" stroke-width="1.0" />
<line x1="29.70" y1="212.60" x2="160.10" y2="212.60" stroke="#3a3a3a" stroke-width="1.0" />
<line x1="27.70" y1="212.60" x2="30.20" y2="212.60" stroke="#222" stroke-width="0.9" />
<text x="26.20" y="214.90" font-size="6.3" fill="#111" stroke="#111" stroke-width="0.15" text-anchor="end">0</text>
<line x1="27.70" y1="190.97" x2="30.20" y2="190.97" stroke="#222" stroke-width="0.9" />
<text x="26.20" y="193.28" font-size="6.3" fill="#111" stroke="#111" stroke-width="0.15" text-anchor="end">25</text>
<line x1="27.70" y1="169.35" x2="30.20" y2="169.35" stroke="#222" stroke-width="0.9" />
<text x="26.20" y="171.65" font-size="6.3" fill="#111" stroke="#111" stroke-width="0.15" text-anchor="end">50</text>
<line x1="27.70" y1="147.72" x2="30.20" y2="147.72" stroke="#222" stroke-width="0.9" />
<text x="26.20" y="150.03" font-size="6.3" fill="#111" stroke="#111" stroke-width="0.15" text-anchor="end">75</text>
<line x1="27.70" y1="126.10" x2="30.20" y2="126.10" stroke="#222" stroke-width="0.9" />
<text x="26.20" y="128.40" font-size="6.3" fill="#111" stroke="#111" stroke-width="0.15" text-anchor="end">100</text>
<line x1="30.20" y1="212.60" x2="30.20" y2="215.10" stroke="#222" stroke-width="0.9" />
<text x="30.20" y="222.20" font-size="6.3" fill="#111" stroke="#111" stroke-width="0.15" text-anchor="middle">0</text>
<line x1="73.50" y1="212.60" x2="73.50" y2="215.10" stroke="#222" stroke-width="0.9" />
<text x="73.50" y="222.20" font-size="6.3" fill="#111" stroke="#111" stroke-width="0.15" text-anchor="middle">20</text>
<line x1="116.80" y1="212.60" x2="116.80" y2="215.10" stroke="#222" stroke-width="0.9" />
<text x="116.80" y="222.20" font-size="6.3" fill="#111" stroke="#111" stroke-width="0.15" text-anchor="middle">40</text>
<line x1="160.10" y1="212.60" x2="160.10" y2="215.10" stroke="#222" stroke-width="0.9" />
<text x="160.10" y="222.20" font-size="6.3" fill="#111" stroke="#111" stroke-width="0.15" text-anchor="middle">60</text>
<text x="95.30" y="232.30" font-size="6.3" fill="#111" stroke="#111" stroke-width="0.15" text-anchor="middle">Time (days)</text>
<text x="11.90" y="169.60" font-size="6.3" fill="#111" stroke="#111" stroke-width="0.15" text-anchor="middle" transform="rotate(-90 11.90 169.60)">Percent survival</text>
<path d="M30.20,126.10 H82.16 V154.90 H108.14 V169.35 H116.80 V198.15 H134.12 V212.60" stroke="#A05CF2" stroke-width="1.3" fill="none" />
<line x1="30.20" y1="126.10" x2="134.12" y2="126.10" stroke="#F4A080" stroke-width="0.8" />
<line x1="30.20" y1="126.10" x2="134.12" y2="126.10" stroke="#F8B060" stroke-width="0.8" stroke-dasharray="1.0,1.4"/>
<line x1="30.20" y1="126.10" x2="134.12" y2="126.10" stroke="#2A50E8" stroke-width="1.0" stroke-dasharray="2.4,1.6,0.9,1.6"/>
<line x1="122.00" y1="138.00" x2="132.80" y2="138.00" stroke="#A05CF2" stroke-width="1.4" />
<line x1="122.00" y1="146.70" x2="132.80" y2="146.70" stroke="#F8A838" stroke-width="1.1" stroke-dasharray="1.0,1.0"/>
<line x1="122.00" y1="156.00" x2="132.80" y2="156.00" stroke="#2A50E8" stroke-width="1.2" stroke-dasharray="2.6,1.2,1,1.2"/>
<line x1="122.00" y1="167.20" x2="132.80" y2="167.20" stroke="#F2602E" stroke-width="1.4" />
<text x="136.60" y="140.60" font-size="6.3" fill="#111" stroke="#111" stroke-width="0.15">vehicle</text>
<text x="136.60" y="149.40" font-size="6.3" fill="#111" stroke="#111" stroke-width="0.15">0.1 mg/kg talazoparib</text>
<text x="136.60" y="159.60" font-size="6.3" fill="#111" stroke="#111" stroke-width="0.15">1x10<tspan font-size="4.41" dy="-2.39">8</tspan><tspan dy="2.39"> pfu RT3D</tspan></text>
<text x="136.60" y="169.90" font-size="6.3" fill="#111" stroke="#111" stroke-width="0.15">1x10<tspan font-size="4.41" dy="-2.39">8</tspan><tspan dy="2.39"> pfu RT3D +</tspan></text>
<text x="137.80" y="177.60" font-size="6.3" fill="#111" stroke="#111" stroke-width="0.15">0.1 mg/kg talazoparib</text>
<text x="5.00" y="278.20" font-size="13.0" fill="#222" stroke="#222" stroke-width="0.15">E.</text>
<rect x="65.90" y="308.50" width="9.40" height="6.00" fill="#B5CCE3"/>
<rect x="74.70" y="308.50" width="9.45" height="6.00" fill="#CFE0EE"/>
<rect x="83.55" y="308.50" width="9.40" height="6.00" fill="#FEF8C8"/>
<rect x="92.35" y="308.50" width="9.05" height="6.00" fill="#D6604D"/>
<text x="51.30" y="313.60" font-size="7.5" fill="#111" stroke="#111" stroke-width="0.15" text-anchor="end">Ptprc</text>
<rect x="53.80" y="308.50" width="9.10" height="6.00" fill="#0A2EF5"/>
<rect x="65.90" y="317.85" width="9.40" height="6.60" fill="#B5CCE3"/>
<rect x="74.70" y="317.85" width="9.45" height="6.60" fill="#C5D8EA"/>
<rect x="83.55" y="317.85" width="9.40" height="6.60" fill="#FEF5C5"/>
<rect x="92.35" y="317.85" width="9.05" height="6.60" fill="#D6604D"/>
<text x="51.30" y="322.95" font-size="7.5" fill="#111" stroke="#111" stroke-width="0.15" text-anchor="end">Ctla4</text>
<rect x="65.90" y="323.85" width="9.40" height="6.60" fill="#9DB9DA"/>
<rect x="74.70" y="323.85" width="9.45" height="6.60" fill="#D0E2EF"/>
<rect x="83.55" y="323.85" width="9.40" height="6.60" fill="#FBEAB0"/>
<rect x="92.35" y="323.85" width="9.05" height="6.60" fill="#DF7A5A"/>
<text x="51.30" y="328.95" font-size="7.5" fill="#111" stroke="#111" stroke-width="0.15" text-anchor="end">Pdcd1</text>
<rect x="65.90" y="329.85" width="9.40" height="6.00" fill="#B5CCE3"/>
<rect x="74.70" y="329.85" width="9.45" height="6.00" fill="#CFE0EE"/>
<rect x="83.55" y="329.85" width="9.40" height="6.00" fill="#FEF6C6"/>
<rect x="92.35" y="329.85" width="9.05" height="6.00" fill="#D6604D"/>
<text x="51.30" y="334.95" font-size="7.5" fill="#111" stroke="#111" stroke-width="0.15" text-anchor="end">Tigit</text>
<rect x="53.80" y="317.85" width="9.10" height="18.00" fill="#9BEF4A"/>
<rect x="65.90" y="339.20" width="9.40" height="6.60" fill="#B5CCE3"/>
<rect x="74.70" y="339.20" width="9.45" height="6.60" fill="#C2D6E9"/>
<rect x="83.55" y="339.20" width="9.40" height="6.60" fill="#FEF5C5"/>
<rect x="92.35" y="339.20" width="9.05" height="6.60" fill="#D6604D"/>
<text x="51.30" y="344.30" font-size="7.5" fill="#111" stroke="#111" stroke-width="0.15" text-anchor="end">Icos</text>
<rect x="65.90" y="345.20" width="9.40" height="6.60" fill="#9DB9DA"/>
<rect x="74.70" y="345.20" width="9.45" height="6.60" fill="#E1EFF5"/>
<rect x="83.55" y="345.20" width="9.40" height="6.60" fill="#FEF5C5"/>
<rect x="92.35" y="345.20" width="9.05" height="6.60" fill="#D6604D"/>
<text x="51.30" y="350.30" font-size="7.5" fill="#111" stroke="#111" stroke-width="0.15" text-anchor="end">Icosl</text>
<rect x="65.90" y="351.20" width="9.40" height="6.60" fill="#E89468"/>
<rect x="74.70" y="351.20" width="9.45" height="6.60" fill="#F7DCA0"/>
<rect x="83.55" y="351.20" width="9.40" height="6.60" fill="#E3EEF6"/>
<rect x="92.35" y="351.20" width="9.05" height="6.60" fill="#86A7D3"/>
<text x="51.30" y="356.30" font-size="7.5" fill="#111" stroke="#111" stroke-width="0.15" text-anchor="end">Tnfrsf9</text>
<rect x="65.90" y="357.20" width="9.40" height="6.00" fill="#B5CCE3"/>
<rect x="74.70" y="357.20" width="9.45" height="6.00" fill="#C5D8EA"/>
<rect x="83.55" y="357.20" width="9.40" height="6.00" fill="#FEF5C5"/>
<rect x="92.35" y="357.20" width="9.05" height="6.00" fill="#D6604D"/>
<text x="51.30" y="362.30" font-size="7.5" fill="#111" stroke="#111" stroke-width="0.15" text-anchor="end">Tnfrsf14</text>
<rect x="53.80" y="339.20" width="9.10" height="24.00" fill="#E52600"/>
<rect x="65.90" y="366.55" width="9.40" height="6.60" fill="#9DB9DA"/>
<rect x="74.70" y="366.55" width="9.45" height="6.60" fill="#D8E7F1"/>
<rect x="83.55" y="366.55" width="9.40" height="6.60" fill="#FEF0C0"/>
<rect x="92.35" y="366.55" width="9.05" height="6.60" fill="#D9684F"/>
<text x="51.30" y="371.65" font-size="7.5" fill="#111" stroke="#111" stroke-width="0.15" text-anchor="end">C2</text>
<rect x="65.90" y="372.55" width="9.40" height="6.60" fill="#A9C3DF"/>
<rect x="74.70" y="372.55" width="9.45" height="6.60" fill="#D0E2EF"/>
<rect x="83.55" y="372.55" width="9.40" height="6.60" fill="#FEF0C0"/>
<rect x="92.35" y="372.55" width="9.05" height="6.60" fill="#D9684F"/>
<text x="51.30" y="377.65" font-size="7.5" fill="#111" stroke="#111" stroke-width="0.15" text-anchor="end">C3</text>
<rect x="65.90" y="378.55" width="9.40" height="6.00" fill="#8FAED6"/>
<rect x="74.70" y="378.55" width="9.45" height="6.00" fill="#DBE9F2"/>
<rect x="83.55" y="378.55" width="9.40" height="6.00" fill="#FBE5A8"/>
<rect x="92.35" y="378.55" width="9.05" height="6.00" fill="#E07C5C"/>
<text x="51.30" y="383.65" font-size="7.5" fill="#111" stroke="#111" stroke-width="0.15" text-anchor="end">Cfb</text>
<rect x="53.80" y="366.55" width="9.10" height="18.00" fill="#FFF83A"/>
<rect x="65.90" y="387.90" width="9.40" height="6.60" fill="#B8CFE5"/>
<rect x="74.70" y="387.90" width="9.45" height="6.60" fill="#B3CBE3"/>
<rect x="83.55" y="387.90" width="9.40" height="6.60" fill="#FBE8AE"/>
<rect x="92.35" y="387.90" width="9.05" height="6.60" fill="#DF7050"/>
<text x="51.30" y="393.00" font-size="7.5" fill="#111" stroke="#111" stroke-width="0.15" text-anchor="end">Gzma</text>
<rect x="65.90" y="393.90" width="9.40" height="6.60" fill="#C3D6E9"/>
<rect x="74.70" y="393.90" width="9.45" height="6.60" fill="#C3D6E9"/>
<rect x="83.55" y="393.90" width="9.40" height="6.60" fill="#FEFBD2"/>
<rect x="92.35" y="393.90" width="9.05" height="6.60" fill="#D65C48"/>
<text x="51.30" y="399.00" font-size="7.5" fill="#111" stroke="#111" stroke-width="0.15" text-anchor="end">Gzmb</text>
<rect x="65.90" y="399.90" width="9.40" height="6.00" fill="#A9C3DF"/>
<rect x="74.70" y="399.90" width="9.45" height="6.00" fill="#C8DAEA"/>
<rect x="83.55" y="399.90" width="9.40" height="6.00" fill="#FCEDB8"/>
<rect x="92.35" y="399.90" width="9.05" height="6.00" fill="#DA6850"/>
<text x="51.30" y="405.00" font-size="7.5" fill="#111" stroke="#111" stroke-width="0.15" text-anchor="end">Prf1</text>
<rect x="53.80" y="387.90" width="9.10" height="18.00" fill="#C6C6C6"/>
<rect x="65.90" y="409.25" width="9.40" height="6.60" fill="#B8CFE5"/>
<rect x="74.70" y="409.25" width="9.45" height="6.60" fill="#BAD0E5"/>
<rect x="83.55" y="409.25" width="9.40" height="6.60" fill="#FEFAD0"/>
<rect x="92.35" y="409.25" width="9.05" height="6.60" fill="#D65C48"/>
<text x="51.30" y="414.35" font-size="7.5" fill="#111" stroke="#111" stroke-width="0.15" text-anchor="end">Eomes</text>
<rect x="65.90" y="415.25" width="9.40" height="6.00" fill="#BAD0E5"/>
<rect x="74.70" y="415.25" width="9.45" height="6.00" fill="#B3CBE3"/>
<rect x="83.55" y="415.25" width="9.40" height="6.00" fill="#FBEBB2"/>
<rect x="92.35" y="415.25" width="9.05" height="6.00" fill="#DA6850"/>
<text x="51.30" y="420.35" font-size="7.5" fill="#111" stroke="#111" stroke-width="0.15" text-anchor="end">Foxp3</text>
<rect x="53.80" y="409.25" width="9.10" height="12.00" fill="#000000"/>
<rect x="65.90" y="424.60" width="9.40" height="6.60" fill="#D6E5F0"/>
<rect x="74.70" y="424.60" width="9.45" height="6.60" fill="#EDF4F4"/>
<rect x="83.55" y="424.60" width="9.40" height="6.60" fill="#D6E5F0"/>
<rect x="92.35" y="424.60" width="9.05" height="6.60" fill="#CC4A3C"/>
<text x="51.30" y="429.70" font-size="7.5" fill="#111" stroke="#111" stroke-width="0.15" text-anchor="end">Ifng</text>
<rect x="65.90" y="430.60" width="9.40" height="6.60" fill="#A5C0DE"/>
<rect x="74.70" y="430.60" width="9.45" height="6.60" fill="#CFE0EE"/>
<rect x="83.55" y="430.60" width="9.40" height="6.60" fill="#FCF3C5"/>
<rect x="92.35" y="430.60" width="9.05" height="6.60" fill="#D9644D"/>
<text x="51.30" y="435.70" font-size="7.5" fill="#111" stroke="#111" stroke-width="0.15" text-anchor="end">Ifnb1</text>
<rect x="65.90" y="436.60" width="9.40" height="6.60" fill="#ADC6E0"/>
<rect x="74.70" y="436.60" width="9.45" height="6.60" fill="#CFE0EE"/>
<rect x="83.55" y="436.60" width="9.40" height="6.60" fill="#FEFBD2"/>
<rect x="92.35" y="436.60" width="9.05" height="6.60" fill="#D65C48"/>
<text x="51.30" y="441.70" font-size="7.5" fill="#111" stroke="#111" stroke-width="0.15" text-anchor="end">Ccl5</text>
<rect x="65.90" y="442.60" width="9.40" height="6.60" fill="#A9C3DF"/>
<rect x="74.70" y="442.60" width="9.45" height="6.60" fill="#D3E3EF"/>
<rect x="83.55" y="442.60" width="9.40" height="6.60" fill="#FEF6C8"/>
<rect x="92.35" y="442.60" width="9.05" height="6.60" fill="#D65C48"/>
<text x="51.30" y="447.70" font-size="7.5" fill="#111" stroke="#111" stroke-width="0.15" text-anchor="end">Cd274</text>
<rect x="65.90" y="448.60" width="9.40" height="6.60" fill="#7C9ECF"/>
<rect x="74.70" y="448.60" width="9.45" height="6.60" fill="#EEF5F0"/>
<rect x="83.55" y="448.60" width="9.40" height="6.60" fill="#FAE6A8"/>
<rect x="92.35" y="448.60" width="9.05" height="6.60" fill="#E2845E"/>
<text x="51.30" y="453.70" font-size="7.5" fill="#111" stroke="#111" stroke-width="0.15" text-anchor="end">Ddx58</text>
<rect x="65.90" y="454.60" width="9.40" height="6.60" fill="#7C9ECF"/>
<rect x="74.70" y="454.60" width="9.45" height="6.60" fill="#EEF5F0"/>
<rect x="83.55" y="454.60" width="9.40" height="6.60" fill="#FAE6A8"/>
<rect x="92.35" y="454.60" width="9.05" height="6.60" fill="#E2845E"/>
<text x="51.30" y="459.70" font-size="7.5" fill="#111" stroke="#111" stroke-width="0.15" text-anchor="end">Ifih1</text>
<rect x="65.90" y="460.60" width="9.40" height="6.60" fill="#7A9CCE"/>
<rect x="74.70" y="460.60" width="9.45" height="6.60" fill="#EEF5F0"/>
<rect x="83.55" y="460.60" width="9.40" height="6.60" fill="#FAE6A8"/>
<rect x="92.35" y="460.60" width="9.05" height="6.60" fill="#E07E5A"/>
<text x="51.30" y="465.70" font-size="7.5" fill="#111" stroke="#111" stroke-width="0.15" text-anchor="end">Irf7</text>
<rect x="65.90" y="466.60" width="9.40" height="6.60" fill="#7FA0D0"/>
<rect x="74.70" y="466.60" width="9.45" height="6.60" fill="#EEF5F0"/>
<rect x="83.55" y="466.60" width="9.40" height="6.60" fill="#FAE6A8"/>
<rect x="92.35" y="466.60" width="9.05" height="6.60" fill="#DE7655"/>
<text x="51.30" y="471.70" font-size="7.5" fill="#111" stroke="#111" stroke-width="0.15" text-anchor="end">Mx1</text>
<rect x="65.90" y="472.60" width="9.40" height="6.00" fill="#A0BCDB"/>
<rect x="74.70" y="472.60" width="9.45" height="6.00" fill="#D3E3EF"/>
<rect x="83.55" y="472.60" width="9.40" height="6.00" fill="#FCF0BD"/>
<rect x="92.35" y="472.60" width="9.05" height="6.00" fill="#DA6850"/>
<text x="51.30" y="477.70" font-size="7.5" fill="#111" stroke="#111" stroke-width="0.15" text-anchor="end">Stat1</text>
<rect x="53.80" y="424.60" width="9.10" height="54.00" fill="#99FCFC"/>
<rect x="65.90" y="481.95" width="9.40" height="6.60" fill="#C3D6E9"/>
<rect x="74.70" y="481.95" width="9.45" height="6.60" fill="#C3D6E9"/>
<rect x="83.55" y="481.95" width="9.40" height="6.60" fill="#FEFAD0"/>
<rect x="92.35" y="481.95" width="9.05" height="6.60" fill="#D45A46"/>
<text x="51.30" y="487.05" font-size="7.5" fill="#111" stroke="#111" stroke-width="0.15" text-anchor="end">CD74</text>
<rect x="65.90" y="487.95" width="9.40" height="6.60" fill="#E6F0F5"/>
<rect x="74.70" y="487.95" width="9.45" height="6.60" fill="#ABC5E0"/>
<rect x="83.55" y="487.95" width="9.40" height="6.60" fill="#F3F6E6"/>
<rect x="92.35" y="487.95" width="9.05" height="6.60" fill="#CE4F40"/>
<text x="51.30" y="493.05" font-size="7.5" fill="#111" stroke="#111" stroke-width="0.15" text-anchor="end">H2−Dma</text>
<rect x="65.90" y="493.95" width="9.40" height="6.60" fill="#E0764F"/>
<rect x="74.70" y="493.95" width="9.45" height="6.60" fill="#FAE6A8"/>
<rect x="83.55" y="493.95" width="9.40" height="6.60" fill="#E0ECF4"/>
<rect x="92.35" y="493.95" width="9.05" height="6.60" fill="#88A8D4"/>
<text x="51.30" y="499.05" font-size="7.5" fill="#111" stroke="#111" stroke-width="0.15" text-anchor="end">H2−Dmb2</text>
<rect x="65.90" y="499.95" width="9.40" height="6.60" fill="#C8DAEA"/>
<rect x="74.70" y="499.95" width="9.45" height="6.60" fill="#C3D6E9"/>
<rect x="83.55" y="499.95" width="9.40" height="6.60" fill="#F8F8DC"/>
<rect x="92.35" y="499.95" width="9.05" height="6.60" fill="#CC4A3C"/>
<text x="51.30" y="505.05" font-size="7.5" fill="#111" stroke="#111" stroke-width="0.15" text-anchor="end">H2−Aa</text>
<rect x="65.90" y="505.95" width="9.40" height="6.60" fill="#CFE0EE"/>
<rect x="74.70" y="505.95" width="9.45" height="6.60" fill="#C3D6E9"/>
<rect x="83.55" y="505.95" width="9.40" height="6.60" fill="#F6F6DD"/>
<rect x="92.35" y="505.95" width="9.05" height="6.60" fill="#CC4A3C"/>
<text x="51.30" y="511.05" font-size="7.5" fill="#111" stroke="#111" stroke-width="0.15" text-anchor="end">H2−Ab1</text>
<rect x="65.90" y="511.95" width="9.40" height="6.60" fill="#D3E3EF"/>
<rect x="74.70" y="511.95" width="9.45" height="6.60" fill="#C8DAEA"/>
<rect x="83.55" y="511.95" width="9.40" height="6.60" fill="#F6F6DD"/>
<rect x="92.35" y="511.95" width="9.05" height="6.60" fill="#CC4A3C"/>
<text x="51.30" y="517.05" font-size="7.5" fill="#111" stroke="#111" stroke-width="0.15" text-anchor="end">H2−Eb1</text>
<rect x="65.90" y="517.95" width="9.40" height="6.60" fill="#D8E7F1"/>
<rect x="74.70" y="517.95" width="9.45" height="6.60" fill="#D8E7F1"/>
<rect x="83.55" y="517.95" width="9.40" height="6.60" fill="#E6F0F5"/>
<rect x="92.35" y="517.95" width="9.05" height="6.60" fill="#CC4A3C"/>
<text x="51.30" y="523.05" font-size="7.5" fill="#111" stroke="#111" stroke-width="0.15" text-anchor="end">H20D1</text>
<rect x="65.90" y="523.95" width="9.40" height="6.00" fill="#A5C0DE"/>
<rect x="74.70" y="523.95" width="9.45" height="6.00" fill="#D3E3EF"/>
<rect x="83.55" y="523.95" width="9.40" height="6.00" fill="#FAE6A8"/>
<rect x="92.35" y="523.95" width="9.05" height="6.00" fill="#DB6A4E"/>
<text x="51.30" y="529.05" font-size="7.5" fill="#111" stroke="#111" stroke-width="0.15" text-anchor="end">H2−K1</text>
<rect x="53.80" y="481.95" width="9.10" height="48.00" fill="#EFA730"/>
<rect x="65.90" y="533.30" width="9.40" height="6.60" fill="#5E86C3"/>
<rect x="74.70" y="533.30" width="9.45" height="6.60" fill="#FEF8C8"/>
<rect x="83.55" y="533.30" width="9.40" height="6.60" fill="#FEF5C2"/>
<rect x="92.35" y="533.30" width="9.05" height="6.60" fill="#E89468"/>
<text x="51.30" y="538.40" font-size="7.5" fill="#111" stroke="#111" stroke-width="0.15" text-anchor="end">KlrC1/NKG2A</text>
<rect x="65.90" y="539.30" width="9.40" height="6.60" fill="#E0ECF4"/>
<rect x="74.70" y="539.30" width="9.45" height="6.60" fill="#CC4A3C"/>
<rect x="83.55" y="539.30" width="9.40" height="6.60" fill="#D8E7F1"/>
<rect x="92.35" y="539.30" width="9.05" height="6.60" fill="#D8E7F1"/>
<text x="51.30" y="544.40" font-size="7.5" fill="#111" stroke="#111" stroke-width="0.15" text-anchor="end">Klrc2</text>
<rect x="65.90" y="545.30" width="9.40" height="6.60" fill="#B3CBE3"/>
<rect x="74.70" y="545.30" width="9.45" height="6.60" fill="#C8DAEA"/>
<rect x="83.55" y="545.30" width="9.40" height="6.60" fill="#FCF0BD"/>
<rect x="92.35" y="545.30" width="9.05" height="6.60" fill="#D9644D"/>
<text x="51.30" y="550.40" font-size="7.5" fill="#111" stroke="#111" stroke-width="0.15" text-anchor="end">Klrd1</text>
<rect x="65.90" y="551.30" width="9.40" height="6.00" fill="#B8CFE5"/>
<rect x="74.70" y="551.30" width="9.45" height="6.00" fill="#C8DAEA"/>
<rect x="83.55" y="551.30" width="9.40" height="6.00" fill="#FCF0BD"/>
<rect x="92.35" y="551.30" width="9.05" height="6.00" fill="#D9644D"/>
<text x="51.30" y="556.40" font-size="7.5" fill="#111" stroke="#111" stroke-width="0.15" text-anchor="end">Klrk1</text>
<rect x="53.80" y="533.30" width="9.10" height="24.00" fill="#9A45EC"/>
<rect x="65.90" y="560.65" width="9.40" height="6.60" fill="#7FA0D0"/>
<rect x="74.70" y="560.65" width="9.45" height="6.60" fill="#FEFAD0"/>
<rect x="83.55" y="560.65" width="9.40" height="6.60" fill="#F6F6DD"/>
<rect x="92.35" y="560.65" width="9.05" height="6.60" fill="#DB6A4E"/>
<text x="51.30" y="565.75" font-size="7.5" fill="#111" stroke="#111" stroke-width="0.15" text-anchor="end">Cd247</text>
<rect x="65.90" y="566.65" width="9.40" height="6.60" fill="#8FAED6"/>
<rect x="74.70" y="566.65" width="9.45" height="6.60" fill="#F6F6DD"/>
<rect x="83.55" y="566.65" width="9.40" height="6.60" fill="#F6F6DD"/>
<rect x="92.35" y="566.65" width="9.05" height="6.60" fill="#D65C48"/>
<text x="51.30" y="571.75" font-size="7.5" fill="#111" stroke="#111" stroke-width="0.15" text-anchor="end">Cd3d</text>
<rect x="65.90" y="572.65" width="9.40" height="6.60" fill="#8FAED6"/>
<rect x="74.70" y="572.65" width="9.45" height="6.60" fill="#F6F6DD"/>
<rect x="83.55" y="572.65" width="9.40" height="6.60" fill="#F6F6DD"/>
<rect x="92.35" y="572.65" width="9.05" height="6.60" fill="#D65C48"/>
<text x="51.30" y="577.75" font-size="7.5" fill="#111" stroke="#111" stroke-width="0.15" text-anchor="end">Cd3e</text>
<rect x="65.90" y="578.65" width="9.40" height="6.60" fill="#B3CBE3"/>
<rect x="74.70" y="578.65" width="9.45" height="6.60" fill="#C8DAEA"/>
<rect x="83.55" y="578.65" width="9.40" height="6.60" fill="#FEF8C8"/>
<rect x="92.35" y="578.65" width="9.05" height="6.60" fill="#D45A46"/>
<text x="51.30" y="583.75" font-size="7.5" fill="#111" stroke="#111" stroke-width="0.15" text-anchor="end">Cd4</text>
<rect x="65.90" y="584.65" width="9.40" height="6.60" fill="#B3CBE3"/>
<rect x="74.70" y="584.65" width="9.45" height="6.60" fill="#C8DAEA"/>
<rect x="83.55" y="584.65" width="9.40" height="6.60" fill="#FEF8C8"/>
<rect x="92.35" y="584.65" width="9.05" height="6.60" fill="#D65C48"/>
<text x="51.30" y="589.75" font-size="7.5" fill="#111" stroke="#111" stroke-width="0.15" text-anchor="end">Cd8a</text>
<rect x="65.90" y="590.65" width="9.40" height="6.60" fill="#A9C3DF"/>
<rect x="74.70" y="590.65" width="9.45" height="6.60" fill="#BAD0E5"/>
<rect x="83.55" y="590.65" width="9.40" height="6.60" fill="#ED9C6C"/>
<rect x="92.35" y="590.65" width="9.05" height="6.60" fill="#F5C585"/>
<text x="51.30" y="595.75" font-size="7.5" fill="#111" stroke="#111" stroke-width="0.15" text-anchor="end">Cxcl9</text>
<rect x="65.90" y="596.65" width="9.40" height="6.00" fill="#7FA0D0"/>
<rect x="74.70" y="596.65" width="9.45" height="6.00" fill="#E0ECF4"/>
<rect x="83.55" y="596.65" width="9.40" height="6.00" fill="#F8D898"/>
<rect x="92.35" y="596.65" width="9.05" height="6.00" fill="#E68A60"/>
<text x="51.30" y="601.75" font-size="7.5" fill="#111" stroke="#111" stroke-width="0.15" text-anchor="end">Cxcl10</text>
<rect x="53.80" y="560.65" width="9.10" height="42.00" fill="#F1CBD5"/>
<text x="73.30" y="305.40" font-size="7.3" fill="#111" stroke="#111" stroke-width="0.15" transform="rotate(-90 73.30 305.40)">Vehicle</text>
<text x="82.10" y="305.40" font-size="7.3" fill="#111" stroke="#111" stroke-width="0.15" transform="rotate(-90 82.10 305.40)">Talazop</text>
<text x="90.90" y="305.40" font-size="7.3" fill="#111" stroke="#111" stroke-width="0.15" transform="rotate(-90 90.90 305.40)">RT3D</text>
<text x="99.80" y="305.40" font-size="7.3" fill="#111" stroke="#111" stroke-width="0.15" transform="rotate(-90 99.80 305.40)">Talazop−RT3D</text>
<text x="108.00" y="353.40" font-size="9.2" fill="#111" stroke="#111" stroke-width="0.15" font-weight="bold">Category</text>
<rect x="108.00" y="359.00" width="11.00" height="11.00" fill="#0A2EF5"/>
<text x="122.30" y="367.70" font-size="8.3" fill="#111" stroke="#111" stroke-width="0.15">CD45</text>
<rect x="108.00" y="370.97" width="11.00" height="11.00" fill="#9BEF4A"/>
<text x="122.30" y="379.67" font-size="8.3" fill="#111" stroke="#111" stroke-width="0.15">Co−inhibitory</text>
<rect x="108.00" y="382.94" width="11.00" height="11.00" fill="#E52600"/>
<text x="122.30" y="391.64" font-size="8.3" fill="#111" stroke="#111" stroke-width="0.15">Co−stimulatory</text>
<rect x="108.00" y="394.91" width="11.00" height="11.00" fill="#FFF83A"/>
<text x="122.30" y="403.61" font-size="8.3" fill="#111" stroke="#111" stroke-width="0.15">Complement</text>
<rect x="108.00" y="406.88" width="11.00" height="11.00" fill="#C6C6C6"/>
<text x="122.30" y="415.58" font-size="8.3" fill="#111" stroke="#111" stroke-width="0.15">Cytotoxic</text>
<rect x="108.00" y="418.85" width="11.00" height="11.00" fill="#000000"/>
<text x="122.30" y="427.55" font-size="8.3" fill="#111" stroke="#111" stroke-width="0.15">Activation/Treg</text>
<rect x="108.00" y="430.82" width="11.00" height="11.00" fill="#99FCFC"/>
<text x="122.30" y="439.52" font-size="8.3" fill="#111" stroke="#111" stroke-width="0.15">Interferon</text>
<rect x="108.00" y="442.79" width="11.00" height="11.00" fill="#EFA730"/>
<text x="122.30" y="451.49" font-size="8.3" fill="#111" stroke="#111" stroke-width="0.15">MHC</text>
<rect x="108.00" y="454.76" width="11.00" height="11.00" fill="#9A45EC"/>
<text x="122.30" y="463.46" font-size="8.3" fill="#111" stroke="#111" stroke-width="0.15">NK</text>
<rect x="108.00" y="466.73" width="11.00" height="11.00" fill="#F1CBD5"/>
<text x="122.30" y="475.43" font-size="8.3" fill="#111" stroke="#111" stroke-width="0.15">T cell/Chemoattractant</text>
<text x="107.70" y="496.90" font-size="9.2" fill="#111" stroke="#111" stroke-width="0.15" font-weight="bold">Row Z−Score</text>
<defs><linearGradient id="zg" x1="0" y1="0" x2="0" y2="1"><stop offset="0" stop-color="#C94335"/><stop offset="0.12" stop-color="#D0493A"/><stop offset="0.28" stop-color="#EE9560"/><stop offset="0.38" stop-color="#F8D88E"/><stop offset="0.5" stop-color="#FEFCD8"/><stop offset="0.62" stop-color="#D6E6F1"/><stop offset="0.72" stop-color="#97B6D9"/><stop offset="0.86" stop-color="#6289C5"/><stop offset="1" stop-color="#5B80BF"/></linearGradient></defs>
<rect x="107.00" y="502.50" width="13.10" height="63.20" fill="url(#zg)"/>
<line x1="107.00" y1="505.40" x2="109.80" y2="505.40" stroke="#fff" stroke-width="0.8" />
<line x1="117.30" y1="505.40" x2="120.10" y2="505.40" stroke="#fff" stroke-width="0.8" />
<text x="122.00" y="508.10" font-size="8.3" fill="#111" stroke="#111" stroke-width="0.15">2</text>
<line x1="107.00" y1="520.05" x2="109.80" y2="520.05" stroke="#fff" stroke-width="0.8" />
<line x1="117.30" y1="520.05" x2="120.10" y2="520.05" stroke="#fff" stroke-width="0.8" />
<text x="122.00" y="522.75" font-size="8.3" fill="#111" stroke="#111" stroke-width="0.15">1</text>
<line x1="107.00" y1="534.70" x2="109.80" y2="534.70" stroke="#fff" stroke-width="0.8" />
<line x1="117.30" y1="534.70" x2="120.10" y2="534.70" stroke="#fff" stroke-width="0.8" />
<text x="122.00" y="537.40" font-size="8.3" fill="#111" stroke="#111" stroke-width="0.15">0</text>
<line x1="107.00" y1="549.35" x2="109.80" y2="549.35" stroke="#fff" stroke-width="0.8" />
<line x1="117.30" y1="549.35" x2="120.10" y2="549.35" stroke="#fff" stroke-width="0.8" />
<text x="122.00" y="552.05" font-size="8.3" fill="#111" stroke="#111" stroke-width="0.15">−1</text>
<line x1="107.00" y1="564.00" x2="109.80" y2="564.00" stroke="#fff" stroke-width="0.8" />
<line x1="117.30" y1="564.00" x2="120.10" y2="564.00" stroke="#fff" stroke-width="0.8" />
<text x="122.00" y="566.70" font-size="8.3" fill="#111" stroke="#111" stroke-width="0.15">−2</text>
<text x="211.50" y="233.90" font-size="12.6" fill="#222" stroke="#222" stroke-width="0.15">F.</text>
<line x1="267.30" y1="230.10" x2="267.30" y2="309.10" stroke="#222" stroke-width="1.2" />
<line x1="266.70" y1="308.50" x2="346.14" y2="308.50" stroke="#222" stroke-width="1.2" />
<line x1="263.80" y1="308.50" x2="267.30" y2="308.50" stroke="#222" stroke-width="1.0" />
<text x="261.80" y="311.30" font-size="8.0" fill="#111" stroke="#111" stroke-width="0.15" text-anchor="end">0</text>
<line x1="263.80" y1="286.15" x2="267.30" y2="286.15" stroke="#222" stroke-width="1.0" />
<text x="261.80" y="288.95" font-size="8.0" fill="#111" stroke="#111" stroke-width="0.15" text-anchor="end">400</text>
<line x1="263.80" y1="263.80" x2="267.30" y2="263.80" stroke="#222" stroke-width="1.0" />
<text x="261.80" y="266.60" font-size="8.0" fill="#111" stroke="#111" stroke-width="0.15" text-anchor="end">800</text>
<line x1="263.80" y1="241.45" x2="267.30" y2="241.45" stroke="#222" stroke-width="1.0" />
<text x="261.80" y="244.25" font-size="8.0" fill="#111" stroke="#111" stroke-width="0.15" text-anchor="end">1200</text>
<line x1="267.30" y1="308.50" x2="267.30" y2="312.00" stroke="#222" stroke-width="1.0" />
<text x="267.30" y="321.40" font-size="8.0" fill="#111" stroke="#111" stroke-width="0.15" text-anchor="middle">0</text>
<line x1="293.58" y1="308.50" x2="293.58" y2="312.00" stroke="#222" stroke-width="1.0" />
<text x="293.58" y="321.40" font-size="8.0" fill="#111" stroke="#111" stroke-width="0.15" text-anchor="middle">4</text>
<line x1="319.86" y1="308.50" x2="319.86" y2="312.00" stroke="#222" stroke-width="1.0" />
<text x="319.86" y="321.40" font-size="8.0" fill="#111" stroke="#111" stroke-width="0.15" text-anchor="middle">8</text>
<line x1="346.14" y1="308.50" x2="346.14" y2="312.00" stroke="#222" stroke-width="1.0" />
<text x="346.14" y="321.40" font-size="8.0" fill="#111" stroke="#111" stroke-width="0.15" text-anchor="middle">12</text>
<text x="306.70" y="328.80" font-size="8.0" fill="#111" stroke="#111" stroke-width="0.15" text-anchor="middle">Days</text>
<text x="238.60" y="271.90" font-size="7.3" fill="#111" stroke="#111" stroke-width="0.15" text-anchor="middle" transform="rotate(-90 238.60 271.90)">Absolute Volume (mm<tspan font-size="5.11" dy="-2.80">3</tspan><tspan dy="2.80">)</tspan></text>
<line x1="267.30" y1="295.09" x2="267.30" y2="300.68" stroke="#777" stroke-width="0.9" />
<line x1="265.10" y1="295.09" x2="269.50" y2="295.09" stroke="#777" stroke-width="0.9" />
<line x1="265.10" y1="300.68" x2="269.50" y2="300.68" stroke="#777" stroke-width="0.9" />
<line x1="293.58" y1="291.18" x2="293.58" y2="295.65" stroke="#777" stroke-width="0.9" />
<line x1="291.38" y1="291.18" x2="295.78" y2="291.18" stroke="#777" stroke-width="0.9" />
<line x1="291.38" y1="295.65" x2="295.78" y2="295.65" stroke="#777" stroke-width="0.9" />
<line x1="319.86" y1="286.71" x2="319.86" y2="290.06" stroke="#777" stroke-width="0.9" />
<line x1="317.66" y1="286.71" x2="322.06" y2="286.71" stroke="#777" stroke-width="0.9" />
<line x1="317.66" y1="290.06" x2="322.06" y2="290.06" stroke="#777" stroke-width="0.9" />
<line x1="346.14" y1="285.31" x2="346.14" y2="288.66" stroke="#777" stroke-width="0.9" />
<line x1="343.94" y1="285.31" x2="348.34" y2="285.31" stroke="#777" stroke-width="0.9" />
<line x1="343.94" y1="288.66" x2="348.34" y2="288.66" stroke="#777" stroke-width="0.9" />
<line x1="267.30" y1="293.41" x2="267.30" y2="301.24" stroke="#777" stroke-width="0.9" />
<line x1="265.10" y1="293.41" x2="269.50" y2="293.41" stroke="#777" stroke-width="0.9" />
<line x1="265.10" y1="301.24" x2="269.50" y2="301.24" stroke="#777" stroke-width="0.9" />
<line x1="293.58" y1="287.83" x2="293.58" y2="295.65" stroke="#777" stroke-width="0.9" />
<line x1="291.38" y1="287.83" x2="295.78" y2="287.83" stroke="#777" stroke-width="0.9" />
<line x1="291.38" y1="295.65" x2="295.78" y2="295.65" stroke="#777" stroke-width="0.9" />
<line x1="319.86" y1="276.93" x2="319.86" y2="285.87" stroke="#777" stroke-width="0.9" />
<line x1="317.66" y1="276.93" x2="322.06" y2="276.93" stroke="#777" stroke-width="0.9" />
<line x1="317.66" y1="285.87" x2="322.06" y2="285.87" stroke="#777" stroke-width="0.9" />
<line x1="346.14" y1="273.02" x2="346.14" y2="279.72" stroke="#777" stroke-width="0.9" />
<line x1="343.94" y1="273.02" x2="348.34" y2="273.02" stroke="#777" stroke-width="0.9" />
<line x1="343.94" y1="279.72" x2="348.34" y2="279.72" stroke="#777" stroke-width="0.9" />
<line x1="267.30" y1="294.81" x2="267.30" y2="301.52" stroke="#777" stroke-width="0.9" />
<line x1="265.10" y1="294.81" x2="269.50" y2="294.81" stroke="#777" stroke-width="0.9" />
<line x1="265.10" y1="301.52" x2="269.50" y2="301.52" stroke="#777" stroke-width="0.9" />
<line x1="293.58" y1="289.78" x2="293.58" y2="296.49" stroke="#777" stroke-width="0.9" />
<line x1="291.38" y1="289.78" x2="295.78" y2="289.78" stroke="#777" stroke-width="0.9" />
<line x1="291.38" y1="296.49" x2="295.78" y2="296.49" stroke="#777" stroke-width="0.9" />
<line x1="319.86" y1="272.74" x2="319.86" y2="287.27" stroke="#777" stroke-width="0.9" />
<line x1="317.66" y1="272.74" x2="322.06" y2="272.74" stroke="#777" stroke-width="0.9" />
<line x1="317.66" y1="287.27" x2="322.06" y2="287.27" stroke="#777" stroke-width="0.9" />
<line x1="346.14" y1="257.37" x2="346.14" y2="275.25" stroke="#777" stroke-width="0.9" />
<line x1="343.94" y1="257.37" x2="348.34" y2="257.37" stroke="#777" stroke-width="0.9" />
<line x1="343.94" y1="275.25" x2="348.34" y2="275.25" stroke="#777" stroke-width="0.9" />
<line x1="267.30" y1="292.02" x2="267.30" y2="302.07" stroke="#777" stroke-width="0.9" />
<line x1="265.10" y1="292.02" x2="269.50" y2="292.02" stroke="#777" stroke-width="0.9" />
<line x1="265.10" y1="302.07" x2="269.50" y2="302.07" stroke="#777" stroke-width="0.9" />
<line x1="293.58" y1="282.80" x2="293.58" y2="299.56" stroke="#777" stroke-width="0.9" />
<line x1="291.38" y1="282.80" x2="295.78" y2="282.80" stroke="#777" stroke-width="0.9" />
<line x1="291.38" y1="299.56" x2="295.78" y2="299.56" stroke="#777" stroke-width="0.9" />
<line x1="319.86" y1="258.21" x2="319.86" y2="287.27" stroke="#777" stroke-width="0.9" />
<line x1="317.66" y1="258.21" x2="322.06" y2="258.21" stroke="#777" stroke-width="0.9" />
<line x1="317.66" y1="287.27" x2="322.06" y2="287.27" stroke="#777" stroke-width="0.9" />
<line x1="346.14" y1="238.66" x2="346.14" y2="266.59" stroke="#777" stroke-width="0.9" />
<line x1="343.94" y1="238.66" x2="348.34" y2="238.66" stroke="#777" stroke-width="0.9" />
<line x1="343.94" y1="266.59" x2="348.34" y2="266.59" stroke="#777" stroke-width="0.9" />
<polyline points="267.30,297.88 293.58,293.41 319.86,288.38 346.14,286.99" fill="none" stroke="#FF2D0A" stroke-width="1.1"/>
<polyline points="267.30,297.32 293.58,291.74 319.86,281.40 346.14,276.37" fill="none" stroke="#0B3DFF" stroke-width="1.1"/>
<polyline points="267.30,298.16 293.58,293.13 319.86,280.00 346.14,266.31" fill="none" stroke="#FF900A" stroke-width="1.1"/>
<polyline points="267.30,297.05 293.58,291.18 319.86,272.74 346.14,252.62" fill="none" stroke="#9538F5" stroke-width="1.1"/>
<polygon points="264.50,300.08 270.10,300.08 267.30,295.08" fill="#000" stroke="none" stroke-width="0"/>
<polygon points="290.78,295.61 296.38,295.61 293.58,290.61" fill="#000" stroke="none" stroke-width="0"/>
<polygon points="317.06,290.58 322.66,290.58 319.86,285.58" fill="#000" stroke="none" stroke-width="0"/>
<polygon points="343.34,289.19 348.94,289.19 346.14,284.19" fill="#000" stroke="none" stroke-width="0"/>
<polygon points="264.60,299.43 270.00,299.43 267.30,294.62" fill="none" stroke="#444" stroke-width="0.8"/>
<polygon points="290.88,293.84 296.28,293.84 293.58,289.04" fill="none" stroke="#444" stroke-width="0.8"/>
<polygon points="317.16,283.50 322.56,283.50 319.86,278.70" fill="none" stroke="#444" stroke-width="0.8"/>
<polygon points="343.44,278.47 348.84,278.47 346.14,273.67" fill="none" stroke="#444" stroke-width="0.8"/>
<circle cx="267.30" cy="298.16" r="2.6" fill="#000" stroke="none" stroke-width="0"/>
<circle cx="293.58" cy="293.13" r="2.6" fill="#000" stroke="none" stroke-width="0"/>
<circle cx="319.86" cy="280.00" r="2.6" fill="#000" stroke="none" stroke-width="0"/>
<circle cx="346.14" cy="266.31" r="2.6" fill="#000" stroke="none" stroke-width="0"/>
<circle cx="267.30" cy="297.05" r="2.5" fill="none" stroke="#555" stroke-width="0.8"/>
<circle cx="293.58" cy="291.18" r="2.5" fill="none" stroke="#555" stroke-width="0.8"/>
<circle cx="319.86" cy="272.74" r="2.5" fill="none" stroke="#555" stroke-width="0.8"/>
<circle cx="346.14" cy="252.62" r="2.5" fill="none" stroke="#555" stroke-width="0.8"/>
<line x1="380.40" y1="256.30" x2="397.80" y2="256.30" stroke="#9538F5" stroke-width="1.1" />
<circle cx="389.20" cy="256.30" r="2.5" fill="none" stroke="#555" stroke-width="0.8"/>
<line x1="380.40" y1="269.20" x2="397.80" y2="269.20" stroke="#FF900A" stroke-width="1.1" />
<circle cx="389.20" cy="269.20" r="2.6" fill="#000" stroke="none" stroke-width="0"/>
<line x1="380.40" y1="279.40" x2="397.80" y2="279.40" stroke="#0B3DFF" stroke-width="1.1" />
<polygon points="386.50,281.50 391.90,281.50 389.20,276.70" fill="none" stroke="#444" stroke-width="0.8"/>
<line x1="380.40" y1="292.70" x2="397.80" y2="292.70" stroke="#FF2D0A" stroke-width="1.1" />
<polygon points="386.40,294.90 392.00,294.90 389.20,289.90" fill="#000" stroke="none" stroke-width="0"/>
<text x="407.00" y="258.90" font-size="7.1" fill="#111" stroke="#111" stroke-width="0.15">vehicle</text>
<text x="407.00" y="272.00" font-size="7.1" fill="#111" stroke="#111" stroke-width="0.15">0.1 mg/kg talazoparib</text>
<text x="407.00" y="284.50" font-size="7.1" fill="#111" stroke="#111" stroke-width="0.15">1x10<tspan font-size="4.97" dy="-2.70">6</tspan><tspan dy="2.70"> pfu RT3D</tspan></text>
<text x="407.00" y="297.20" font-size="7.1" fill="#111" stroke="#111" stroke-width="0.15">1 x 10<tspan font-size="4.97" dy="-2.70">6</tspan><tspan dy="2.70"> pfu RT3D +</tspan></text>
<text x="409.00" y="305.20" font-size="7.1" fill="#111" stroke="#111" stroke-width="0.15">0.1 mg/kg talazoparib</text>
<text x="483.00" y="234.20" font-size="12.8" fill="#222" stroke="#222" stroke-width="0.15">G.</text>
<line x1="551.30" y1="229.50" x2="551.30" y2="308.70" stroke="#222" stroke-width="1.2" />
<line x1="550.70" y1="308.10" x2="629.50" y2="308.10" stroke="#222" stroke-width="1.2" />
<line x1="545.30" y1="308.10" x2="551.30" y2="308.10" stroke="#222" stroke-width="1.2" />
<text x="543.50" y="311.20" font-size="8.6" fill="#111" stroke="#111" stroke-width="0.15" text-anchor="end">0.0</text>
<line x1="545.30" y1="288.45" x2="551.30" y2="288.45" stroke="#222" stroke-width="1.2" />
<text x="543.50" y="291.55" font-size="8.6" fill="#111" stroke="#111" stroke-width="0.15" text-anchor="end">0.5</text>
<line x1="545.30" y1="268.80" x2="551.30" y2="268.80" stroke="#222" stroke-width="1.2" />
<text x="543.50" y="271.90" font-size="8.6" fill="#111" stroke="#111" stroke-width="0.15" text-anchor="end">1.0</text>
<line x1="545.30" y1="249.15" x2="551.30" y2="249.15" stroke="#222" stroke-width="1.2" />
<text x="543.50" y="252.25" font-size="8.6" fill="#111" stroke="#111" stroke-width="0.15" text-anchor="end">1.5</text>
<line x1="545.30" y1="229.50" x2="551.30" y2="229.50" stroke="#222" stroke-width="1.2" />
<text x="543.50" y="232.60" font-size="8.6" fill="#111" stroke="#111" stroke-width="0.15" text-anchor="end">2.0</text>
<line x1="563.50" y1="308.10" x2="563.50" y2="314.10" stroke="#222" stroke-width="1.2" />
<text x="565.10" y="323.40" font-size="8.7" fill="#111" stroke="#111" stroke-width="0.24" text-anchor="end" transform="rotate(-45 565.10 323.40)">vehicle</text>
<line x1="581.60" y1="308.10" x2="581.60" y2="314.10" stroke="#222" stroke-width="1.2" />
<text x="583.20" y="323.40" font-size="8.7" fill="#111" stroke="#111" stroke-width="0.24" text-anchor="end" transform="rotate(-45 583.20 323.40)">0.1 mg/kg talazoparib</text>
<line x1="599.80" y1="308.10" x2="599.80" y2="314.10" stroke="#222" stroke-width="1.2" />
<text x="601.40" y="323.40" font-size="8.7" fill="#111" stroke="#111" stroke-width="0.24" text-anchor="end" transform="rotate(-45 601.40 323.40)">RT3D 1 x10<tspan font-size="6.09" dy="-3.31">6</tspan><tspan dy="3.31"> pfu</tspan></text>
<line x1="617.80" y1="308.10" x2="617.80" y2="314.10" stroke="#222" stroke-width="1.2" />
<text x="622.40" y="329.40" font-size="8.7" fill="#111" stroke="#111" stroke-width="0.24" text-anchor="end" transform="rotate(-45 622.40 329.40)">RT3D + talazoparib</text>
<circle cx="563.50" cy="240.50" r="2.3" fill="#9538F5" stroke="none" stroke-width="0"/>
<circle cx="559.80" cy="255.44" r="2.3" fill="#9538F5" stroke="none" stroke-width="0"/>
<circle cx="567.10" cy="253.47" r="2.3" fill="#9538F5" stroke="none" stroke-width="0"/>
<circle cx="567.10" cy="260.55" r="2.3" fill="#9538F5" stroke="none" stroke-width="0"/>
<circle cx="559.80" cy="263.69" r="2.3" fill="#9538F5" stroke="none" stroke-width="0"/>
<circle cx="581.60" cy="256.22" r="2.3" fill="#FF900A" stroke="none" stroke-width="0"/>
<circle cx="577.80" cy="269.98" r="2.3" fill="#FF900A" stroke="none" stroke-width="0"/>
<circle cx="580.60" cy="266.84" r="2.3" fill="#FF900A" stroke="none" stroke-width="0"/>
<circle cx="583.20" cy="269.39" r="2.3" fill="#FF900A" stroke="none" stroke-width="0"/>
<circle cx="585.60" cy="269.39" r="2.3" fill="#FF900A" stroke="none" stroke-width="0"/>
<circle cx="596.10" cy="272.73" r="2.3" fill="#0B3DFF" stroke="none" stroke-width="0"/>
<circle cx="596.10" cy="277.84" r="2.3" fill="#0B3DFF" stroke="none" stroke-width="0"/>
<circle cx="600.20" cy="274.70" r="2.3" fill="#0B3DFF" stroke="none" stroke-width="0"/>
<circle cx="603.70" cy="274.70" r="2.3" fill="#0B3DFF" stroke="none" stroke-width="0"/>
<circle cx="598.30" cy="274.30" r="2.3" fill="#0B3DFF" stroke="none" stroke-width="0"/>
<circle cx="617.80" cy="280.59" r="2.3" fill="#FF2D0A" stroke="none" stroke-width="0"/>
<circle cx="614.10" cy="286.68" r="2.3" fill="#FF2D0A" stroke="none" stroke-width="0"/>
<circle cx="617.80" cy="286.68" r="2.3" fill="#FF2D0A" stroke="none" stroke-width="0"/>
<circle cx="621.80" cy="290.22" r="2.3" fill="#FF2D0A" stroke="none" stroke-width="0"/>
<circle cx="614.30" cy="293.36" r="2.3" fill="#FF2D0A" stroke="none" stroke-width="0"/>
<line x1="558.00" y1="255.05" x2="569.00" y2="255.05" stroke="#111" stroke-width="1.3" />
<line x1="563.50" y1="250.72" x2="563.50" y2="259.37" stroke="#222" stroke-width="1.1" />
<line x1="560.70" y1="250.72" x2="566.30" y2="250.72" stroke="#222" stroke-width="1.1" />
<line x1="560.70" y1="259.37" x2="566.30" y2="259.37" stroke="#222" stroke-width="1.1" />
<line x1="576.10" y1="266.05" x2="587.10" y2="266.05" stroke="#111" stroke-width="1.3" />
<line x1="581.60" y1="263.69" x2="581.60" y2="268.41" stroke="#222" stroke-width="1.1" />
<line x1="578.80" y1="263.69" x2="584.40" y2="263.69" stroke="#222" stroke-width="1.1" />
<line x1="578.80" y1="268.41" x2="584.40" y2="268.41" stroke="#222" stroke-width="1.1" />
<line x1="594.30" y1="275.09" x2="605.30" y2="275.09" stroke="#111" stroke-width="1.3" />
<line x1="599.80" y1="274.11" x2="599.80" y2="276.07" stroke="#222" stroke-width="1.1" />
<line x1="597.00" y1="274.11" x2="602.60" y2="274.11" stroke="#222" stroke-width="1.1" />
<line x1="597.00" y1="276.07" x2="602.60" y2="276.07" stroke="#222" stroke-width="1.1" />
<line x1="612.30" y1="287.51" x2="623.30" y2="287.51" stroke="#111" stroke-width="1.3" />
<line x1="617.80" y1="285.54" x2="617.80" y2="289.47" stroke="#222" stroke-width="1.1" />
<line x1="615.00" y1="285.54" x2="620.60" y2="285.54" stroke="#222" stroke-width="1.1" />
<line x1="615.00" y1="289.47" x2="620.60" y2="289.47" stroke="#222" stroke-width="1.1" />
<text x="515.50" y="268.90" font-size="8.3" fill="#111" stroke="#111" stroke-width="0.15" text-anchor="middle" transform="rotate(-90 515.50 268.90)">tumour weight (g)</text>
<text x="525.00" y="267.50" font-size="8.3" fill="#111" stroke="#111" stroke-width="0.15" text-anchor="middle" transform="rotate(-90 525.00 267.50)">[day 12]</text>
<line x1="598.10" y1="266.90" x2="617.20" y2="266.90" stroke="#6a6a6a" stroke-width="1.4" />
<text x="607.65" y="268.30" font-size="10.0" fill="#111" stroke="#111" stroke-width="0.15" text-anchor="middle">**</text>
<text x="211.20" y="389.50" font-size="12.8" fill="#222" stroke="#222" stroke-width="0.15">H.</text>
<line x1="253.30" y1="409.10" x2="253.30" y2="500.00" stroke="#222" stroke-width="1.3" />
<line x1="252.70" y1="499.40" x2="343.60" y2="499.40" stroke="#222" stroke-width="1.3" />
<line x1="246.30" y1="499.40" x2="253.30" y2="499.40" stroke="#222" stroke-width="1.3" />
<text x="243.00" y="502.78" font-size="9.4" fill="#111" stroke="#111" stroke-width="0.15" text-anchor="end">0</text>
<line x1="246.30" y1="469.30" x2="253.30" y2="469.30" stroke="#222" stroke-width="1.3" />
<text x="243.00" y="472.68" font-size="9.4" fill="#111" stroke="#111" stroke-width="0.15" text-anchor="end">10</text>
<line x1="246.30" y1="439.20" x2="253.30" y2="439.20" stroke="#222" stroke-width="1.3" />
<text x="243.00" y="442.58" font-size="9.4" fill="#111" stroke="#111" stroke-width="0.15" text-anchor="end">20</text>
<line x1="246.30" y1="409.10" x2="253.30" y2="409.10" stroke="#222" stroke-width="1.3" />
<text x="243.00" y="412.48" font-size="9.4" fill="#111" stroke="#111" stroke-width="0.15" text-anchor="end">30</text>
<line x1="267.30" y1="499.40" x2="267.30" y2="506.40" stroke="#222" stroke-width="1.3" />
<text x="269.60" y="515.40" font-size="10.0" fill="#111" stroke="#111" stroke-width="0.24" text-anchor="end" transform="rotate(-45 269.60 515.40)">vehicle</text>
<line x1="287.90" y1="499.40" x2="287.90" y2="506.40" stroke="#222" stroke-width="1.3" />
<text x="290.20" y="515.40" font-size="10.0" fill="#111" stroke="#111" stroke-width="0.24" text-anchor="end" transform="rotate(-45 290.20 515.40)">0.1 mg/kg talazoparib</text>
<line x1="308.70" y1="499.40" x2="308.70" y2="506.40" stroke="#222" stroke-width="1.3" />
<text x="311.00" y="515.40" font-size="10.0" fill="#111" stroke="#111" stroke-width="0.24" text-anchor="end" transform="rotate(-45 311.00 515.40)">RT3D 1 x10<tspan font-size="7.00" dy="-3.80">6</tspan><tspan dy="3.80"> pfu</tspan></text>
<line x1="329.40" y1="499.40" x2="329.40" y2="506.40" stroke="#222" stroke-width="1.3" />
<text x="334.20" y="521.90" font-size="10.0" fill="#111" stroke="#111" stroke-width="0.24" text-anchor="end" transform="rotate(-45 334.20 521.90)">RT3D + talazoparib</text>
<line x1="260.30" y1="487.66" x2="274.30" y2="487.66" stroke="#111" stroke-width="2.0" />
<line x1="267.30" y1="486.16" x2="267.30" y2="489.17" stroke="#222" stroke-width="1.1" />
<line x1="263.50" y1="486.16" x2="271.10" y2="486.16" stroke="#222" stroke-width="1.1" />
<line x1="263.50" y1="489.17" x2="271.10" y2="489.17" stroke="#222" stroke-width="1.1" />
<line x1="280.90" y1="482.24" x2="294.90" y2="482.24" stroke="#111" stroke-width="2.0" />
<line x1="287.90" y1="479.68" x2="287.90" y2="484.80" stroke="#222" stroke-width="1.1" />
<line x1="284.10" y1="479.68" x2="291.70" y2="479.68" stroke="#222" stroke-width="1.1" />
<line x1="284.10" y1="484.80" x2="291.70" y2="484.80" stroke="#222" stroke-width="1.1" />
<line x1="301.70" y1="469.60" x2="315.70" y2="469.60" stroke="#111" stroke-width="2.0" />
<line x1="308.70" y1="465.24" x2="308.70" y2="473.97" stroke="#222" stroke-width="1.1" />
<line x1="304.90" y1="465.24" x2="312.50" y2="465.24" stroke="#222" stroke-width="1.1" />
<line x1="304.90" y1="473.97" x2="312.50" y2="473.97" stroke="#222" stroke-width="1.1" />
<line x1="322.40" y1="438.90" x2="336.40" y2="438.90" stroke="#111" stroke-width="2.0" />
<line x1="329.40" y1="433.63" x2="329.40" y2="444.17" stroke="#222" stroke-width="1.1" />
<line x1="325.60" y1="433.63" x2="333.20" y2="433.63" stroke="#222" stroke-width="1.1" />
<line x1="325.60" y1="444.17" x2="333.20" y2="444.17" stroke="#222" stroke-width="1.1" />
<circle cx="264.90" cy="483.30" r="2.8" fill="#9538F5" stroke="none" stroke-width="0"/>
<circle cx="269.70" cy="483.30" r="2.8" fill="#9538F5" stroke="none" stroke-width="0"/>
<circle cx="262.50" cy="490.97" r="2.8" fill="#9538F5" stroke="none" stroke-width="0"/>
<circle cx="271.30" cy="490.97" r="2.8" fill="#9538F5" stroke="none" stroke-width="0"/>
<circle cx="267.30" cy="487.36" r="2.8" fill="#9538F5" stroke="none" stroke-width="0"/>
<circle cx="287.90" cy="472.91" r="2.8" fill="#FF900A" stroke="none" stroke-width="0"/>
<circle cx="283.40" cy="481.64" r="2.8" fill="#FF900A" stroke="none" stroke-width="0"/>
<circle cx="283.70" cy="487.81" r="2.8" fill="#FF900A" stroke="none" stroke-width="0"/>
<circle cx="288.20" cy="484.05" r="2.8" fill="#FF900A" stroke="none" stroke-width="0"/>
<circle cx="292.20" cy="484.65" r="2.8" fill="#FF900A" stroke="none" stroke-width="0"/>
<circle cx="308.70" cy="456.36" r="2.8" fill="#0B3DFF" stroke="none" stroke-width="0"/>
<circle cx="313.10" cy="465.69" r="2.8" fill="#0B3DFF" stroke="none" stroke-width="0"/>
<circle cx="304.20" cy="468.70" r="2.8" fill="#0B3DFF" stroke="none" stroke-width="0"/>
<circle cx="308.70" cy="475.62" r="2.8" fill="#0B3DFF" stroke="none" stroke-width="0"/>
<circle cx="308.70" cy="481.64" r="2.8" fill="#0B3DFF" stroke="none" stroke-width="0"/>
<circle cx="329.40" cy="421.14" r="2.8" fill="#FF2D0A" stroke="none" stroke-width="0"/>
<circle cx="329.40" cy="434.38" r="2.8" fill="#FF2D0A" stroke="none" stroke-width="0"/>
<circle cx="325.10" cy="442.81" r="2.8" fill="#FF2D0A" stroke="none" stroke-width="0"/>
<circle cx="334.30" cy="447.33" r="2.8" fill="#FF2D0A" stroke="none" stroke-width="0"/>
<circle cx="325.10" cy="448.83" r="2.8" fill="#FF2D0A" stroke="none" stroke-width="0"/>
<text x="223.00" y="450.40" font-size="9.4" fill="#111" stroke="#111" stroke-width="0.15" text-anchor="middle" transform="rotate(-90 223.00 450.40)">CD3 +</text>
<line x1="307.10" y1="409.50" x2="328.60" y2="409.50" stroke="#111" stroke-width="1.4" />
<text x="317.85" y="410.90" font-size="11.5" fill="#111" stroke="#111" stroke-width="0.15" text-anchor="middle" font-weight="bold">**</text>
<line x1="415.60" y1="410.50" x2="415.60" y2="501.10" stroke="#222" stroke-width="1.3" />
<line x1="415.00" y1="500.50" x2="504.70" y2="500.50" stroke="#222" stroke-width="1.3" />
<line x1="408.60" y1="500.50" x2="415.60" y2="500.50" stroke="#222" stroke-width="1.3" />
<text x="405.30" y="503.88" font-size="9.4" fill="#111" stroke="#111" stroke-width="0.15" text-anchor="end">0</text>
<line x1="408.60" y1="478.00" x2="415.60" y2="478.00" stroke="#222" stroke-width="1.3" />
<text x="405.30" y="481.38" font-size="9.4" fill="#111" stroke="#111" stroke-width="0.15" text-anchor="end">10</text>
<line x1="408.60" y1="455.50" x2="415.60" y2="455.50" stroke="#222" stroke-width="1.3" />
<text x="405.30" y="458.88" font-size="9.4" fill="#111" stroke="#111" stroke-width="0.15" text-anchor="end">20</text>
<line x1="408.60" y1="433.00" x2="415.60" y2="433.00" stroke="#222" stroke-width="1.3" />
<text x="405.30" y="436.38" font-size="9.4" fill="#111" stroke="#111" stroke-width="0.15" text-anchor="end">30</text>
<line x1="408.60" y1="410.50" x2="415.60" y2="410.50" stroke="#222" stroke-width="1.3" />
<text x="405.30" y="413.88" font-size="9.4" fill="#111" stroke="#111" stroke-width="0.15" text-anchor="end">40</text>
<line x1="428.90" y1="500.50" x2="428.90" y2="507.50" stroke="#222" stroke-width="1.3" />
<text x="431.20" y="516.50" font-size="10.0" fill="#111" stroke="#111" stroke-width="0.24" text-anchor="end" transform="rotate(-45 431.20 516.50)">vehicle</text>
<line x1="449.50" y1="500.50" x2="449.50" y2="507.50" stroke="#222" stroke-width="1.3" />
<text x="451.80" y="516.50" font-size="10.0" fill="#111" stroke="#111" stroke-width="0.24" text-anchor="end" transform="rotate(-45 451.80 516.50)">0.1 mg/kg talazoparib</text>
<line x1="470.20" y1="500.50" x2="470.20" y2="507.50" stroke="#222" stroke-width="1.3" />
<text x="472.50" y="516.50" font-size="10.0" fill="#111" stroke="#111" stroke-width="0.24" text-anchor="end" transform="rotate(-45 472.50 516.50)">RT3D 1 x10<tspan font-size="7.00" dy="-3.80">6</tspan><tspan dy="3.80"> pfu</tspan></text>
<line x1="491.10" y1="500.50" x2="491.10" y2="507.50" stroke="#222" stroke-width="1.3" />
<text x="495.90" y="523.00" font-size="10.0" fill="#111" stroke="#111" stroke-width="0.24" text-anchor="end" transform="rotate(-45 495.90 523.00)">RT3D + talazoparib</text>
<line x1="421.90" y1="496.00" x2="435.90" y2="496.00" stroke="#111" stroke-width="2.0" />
<line x1="428.90" y1="495.55" x2="428.90" y2="496.45" stroke="#222" stroke-width="1.1" />
<line x1="425.10" y1="495.55" x2="432.70" y2="495.55" stroke="#222" stroke-width="1.1" />
<line x1="425.10" y1="496.45" x2="432.70" y2="496.45" stroke="#222" stroke-width="1.1" />
<line x1="442.50" y1="494.65" x2="456.50" y2="494.65" stroke="#111" stroke-width="2.0" />
<line x1="449.50" y1="493.75" x2="449.50" y2="495.55" stroke="#222" stroke-width="1.1" />
<line x1="445.70" y1="493.75" x2="453.30" y2="493.75" stroke="#222" stroke-width="1.1" />
<line x1="445.70" y1="495.55" x2="453.30" y2="495.55" stroke="#222" stroke-width="1.1" />
<line x1="463.20" y1="469.23" x2="477.20" y2="469.23" stroke="#111" stroke-width="2.0" />
<line x1="470.20" y1="466.07" x2="470.20" y2="472.38" stroke="#222" stroke-width="1.1" />
<line x1="466.40" y1="466.07" x2="474.00" y2="466.07" stroke="#222" stroke-width="1.1" />
<line x1="466.40" y1="472.38" x2="474.00" y2="472.38" stroke="#222" stroke-width="1.1" />
<line x1="484.10" y1="441.32" x2="498.10" y2="441.32" stroke="#111" stroke-width="2.0" />
<line x1="491.10" y1="437.05" x2="491.10" y2="445.60" stroke="#222" stroke-width="1.1" />
<line x1="487.30" y1="437.05" x2="494.90" y2="437.05" stroke="#222" stroke-width="1.1" />
<line x1="487.30" y1="445.60" x2="494.90" y2="445.60" stroke="#222" stroke-width="1.1" />
<circle cx="424.90" cy="496.23" r="2.8" fill="#9538F5" stroke="none" stroke-width="0"/>
<circle cx="427.30" cy="494.65" r="2.8" fill="#9538F5" stroke="none" stroke-width="0"/>
<circle cx="429.70" cy="496.00" r="2.8" fill="#9538F5" stroke="none" stroke-width="0"/>
<circle cx="432.10" cy="496.00" r="2.8" fill="#9538F5" stroke="none" stroke-width="0"/>
<circle cx="433.70" cy="497.01" r="2.8" fill="#9538F5" stroke="none" stroke-width="0"/>
<circle cx="445.80" cy="491.50" r="2.8" fill="#FF900A" stroke="none" stroke-width="0"/>
<circle cx="445.00" cy="497.01" r="2.8" fill="#FF900A" stroke="none" stroke-width="0"/>
<circle cx="449.00" cy="494.65" r="2.8" fill="#FF900A" stroke="none" stroke-width="0"/>
<circle cx="451.40" cy="496.00" r="2.8" fill="#FF900A" stroke="none" stroke-width="0"/>
<circle cx="454.60" cy="494.65" r="2.8" fill="#FF900A" stroke="none" stroke-width="0"/>
<circle cx="470.20" cy="457.52" r="2.8" fill="#0B3DFF" stroke="none" stroke-width="0"/>
<circle cx="465.80" cy="468.10" r="2.8" fill="#0B3DFF" stroke="none" stroke-width="0"/>
<circle cx="470.20" cy="468.10" r="2.8" fill="#0B3DFF" stroke="none" stroke-width="0"/>
<circle cx="474.20" cy="473.50" r="2.8" fill="#0B3DFF" stroke="none" stroke-width="0"/>
<circle cx="465.80" cy="476.20" r="2.8" fill="#0B3DFF" stroke="none" stroke-width="0"/>
<circle cx="491.10" cy="427.82" r="2.8" fill="#FF2D0A" stroke="none" stroke-width="0"/>
<circle cx="495.20" cy="437.05" r="2.8" fill="#FF2D0A" stroke="none" stroke-width="0"/>
<circle cx="486.70" cy="442.00" r="2.8" fill="#FF2D0A" stroke="none" stroke-width="0"/>
<circle cx="495.20" cy="445.15" r="2.8" fill="#FF2D0A" stroke="none" stroke-width="0"/>
<circle cx="491.10" cy="454.38" r="2.8" fill="#FF2D0A" stroke="none" stroke-width="0"/>
<text x="378.40" y="466.80" font-size="9.4" fill="#111" stroke="#111" stroke-width="0.15" text-anchor="middle" transform="rotate(-90 378.40 466.80)">CD8 +</text>
<text x="390.00" y="466.20" font-size="9.4" fill="#111" stroke="#111" stroke-width="0.15" text-anchor="middle" transform="rotate(-90 390.00 466.20)">(% of viable cells)</text>
<line x1="467.10" y1="410.60" x2="488.60" y2="410.60" stroke="#111" stroke-width="1.4" />
<text x="477.85" y="412.00" font-size="11.5" fill="#111" stroke="#111" stroke-width="0.15" text-anchor="middle" font-weight="bold">***</text>
<line x1="563.00" y1="409.20" x2="563.00" y2="500.30" stroke="#222" stroke-width="1.3" />
<line x1="562.40" y1="499.70" x2="653.30" y2="499.70" stroke="#222" stroke-width="1.3" />
<line x1="556.00" y1="499.70" x2="563.00" y2="499.70" stroke="#222" stroke-width="1.3" />
<text x="552.70" y="503.08" font-size="9.4" fill="#111" stroke="#111" stroke-width="0.15" text-anchor="end">0</text>
<line x1="556.00" y1="481.60" x2="563.00" y2="481.60" stroke="#222" stroke-width="1.3" />
<text x="552.70" y="484.98" font-size="9.4" fill="#111" stroke="#111" stroke-width="0.15" text-anchor="end">2</text>
<line x1="556.00" y1="463.50" x2="563.00" y2="463.50" stroke="#222" stroke-width="1.3" />
<text x="552.70" y="466.88" font-size="9.4" fill="#111" stroke="#111" stroke-width="0.15" text-anchor="end">4</text>
<line x1="556.00" y1="445.40" x2="563.00" y2="445.40" stroke="#222" stroke-width="1.3" />
<text x="552.70" y="448.78" font-size="9.4" fill="#111" stroke="#111" stroke-width="0.15" text-anchor="end">6</text>
<line x1="556.00" y1="427.30" x2="563.00" y2="427.30" stroke="#222" stroke-width="1.3" />
<text x="552.70" y="430.68" font-size="9.4" fill="#111" stroke="#111" stroke-width="0.15" text-anchor="end">8</text>
<line x1="556.00" y1="409.20" x2="563.00" y2="409.20" stroke="#222" stroke-width="1.3" />
<text x="552.70" y="412.58" font-size="9.4" fill="#111" stroke="#111" stroke-width="0.15" text-anchor="end">10</text>
<line x1="577.00" y1="499.70" x2="577.00" y2="506.70" stroke="#222" stroke-width="1.3" />
<text x="579.30" y="515.70" font-size="10.0" fill="#111" stroke="#111" stroke-width="0.24" text-anchor="end" transform="rotate(-45 579.30 515.70)">vehicle</text>
<line x1="597.90" y1="499.70" x2="597.90" y2="506.70" stroke="#222" stroke-width="1.3" />
<text x="600.20" y="515.70" font-size="10.0" fill="#111" stroke="#111" stroke-width="0.24" text-anchor="end" transform="rotate(-45 600.20 515.70)">0.1 mg/kg talazoparib</text>
<line x1="618.80" y1="499.70" x2="618.80" y2="506.70" stroke="#222" stroke-width="1.3" />
<text x="621.10" y="515.70" font-size="10.0" fill="#111" stroke="#111" stroke-width="0.24" text-anchor="end" transform="rotate(-45 621.10 515.70)">RT3D 1 x10<tspan font-size="7.00" dy="-3.80">6</tspan><tspan dy="3.80"> pfu</tspan></text>
<line x1="639.60" y1="499.70" x2="639.60" y2="506.70" stroke="#222" stroke-width="1.3" />
<text x="644.40" y="522.20" font-size="10.0" fill="#111" stroke="#111" stroke-width="0.24" text-anchor="end" transform="rotate(-45 644.40 522.20)">RT3D + talazoparib</text>
<line x1="570.00" y1="485.40" x2="584.00" y2="485.40" stroke="#111" stroke-width="2.0" />
<line x1="577.00" y1="482.50" x2="577.00" y2="488.30" stroke="#222" stroke-width="1.1" />
<line x1="573.20" y1="482.50" x2="580.80" y2="482.50" stroke="#222" stroke-width="1.1" />
<line x1="573.20" y1="488.30" x2="580.80" y2="488.30" stroke="#222" stroke-width="1.1" />
<line x1="590.90" y1="484.86" x2="604.90" y2="484.86" stroke="#111" stroke-width="2.0" />
<line x1="597.90" y1="483.05" x2="597.90" y2="486.67" stroke="#222" stroke-width="1.1" />
<line x1="594.10" y1="483.05" x2="601.70" y2="483.05" stroke="#222" stroke-width="1.1" />
<line x1="594.10" y1="486.67" x2="601.70" y2="486.67" stroke="#222" stroke-width="1.1" />
<line x1="611.80" y1="474.18" x2="625.80" y2="474.18" stroke="#111" stroke-width="2.0" />
<line x1="618.80" y1="472.64" x2="618.80" y2="475.72" stroke="#222" stroke-width="1.1" />
<line x1="615.00" y1="472.64" x2="622.60" y2="472.64" stroke="#222" stroke-width="1.1" />
<line x1="615.00" y1="475.72" x2="622.60" y2="475.72" stroke="#222" stroke-width="1.1" />
<line x1="632.60" y1="433.09" x2="646.60" y2="433.09" stroke="#111" stroke-width="2.0" />
<line x1="639.60" y1="428.11" x2="639.60" y2="438.07" stroke="#222" stroke-width="1.1" />
<line x1="635.80" y1="428.11" x2="643.40" y2="428.11" stroke="#222" stroke-width="1.1" />
<line x1="635.80" y1="438.07" x2="643.40" y2="438.07" stroke="#222" stroke-width="1.1" />
<circle cx="575.10" cy="476.17" r="2.8" fill="#9538F5" stroke="none" stroke-width="0"/>
<circle cx="579.10" cy="478.25" r="2.8" fill="#9538F5" stroke="none" stroke-width="0"/>
<circle cx="572.70" cy="490.65" r="2.8" fill="#9538F5" stroke="none" stroke-width="0"/>
<circle cx="577.20" cy="490.65" r="2.8" fill="#9538F5" stroke="none" stroke-width="0"/>
<circle cx="581.50" cy="490.20" r="2.8" fill="#9538F5" stroke="none" stroke-width="0"/>
<circle cx="593.90" cy="479.34" r="2.8" fill="#FF900A" stroke="none" stroke-width="0"/>
<circle cx="602.40" cy="481.60" r="2.8" fill="#FF900A" stroke="none" stroke-width="0"/>
<circle cx="598.10" cy="484.13" r="2.8" fill="#FF900A" stroke="none" stroke-width="0"/>
<circle cx="602.40" cy="485.67" r="2.8" fill="#FF900A" stroke="none" stroke-width="0"/>
<circle cx="593.50" cy="490.92" r="2.8" fill="#FF900A" stroke="none" stroke-width="0"/>
<circle cx="618.90" cy="468.48" r="2.8" fill="#0B3DFF" stroke="none" stroke-width="0"/>
<circle cx="614.70" cy="470.74" r="2.8" fill="#0B3DFF" stroke="none" stroke-width="0"/>
<circle cx="623.00" cy="471.64" r="2.8" fill="#0B3DFF" stroke="none" stroke-width="0"/>
<circle cx="616.80" cy="476.62" r="2.8" fill="#0B3DFF" stroke="none" stroke-width="0"/>
<circle cx="620.80" cy="475.72" r="2.8" fill="#0B3DFF" stroke="none" stroke-width="0"/>
<circle cx="639.60" cy="417.98" r="2.8" fill="#FF2D0A" stroke="none" stroke-width="0"/>
<circle cx="639.60" cy="425.76" r="2.8" fill="#FF2D0A" stroke="none" stroke-width="0"/>
<circle cx="635.30" cy="435.08" r="2.8" fill="#FF2D0A" stroke="none" stroke-width="0"/>
<circle cx="644.10" cy="438.43" r="2.8" fill="#FF2D0A" stroke="none" stroke-width="0"/>
<circle cx="639.60" cy="446.94" r="2.8" fill="#FF2D0A" stroke="none" stroke-width="0"/>
<text x="525.60" y="465.50" font-size="9.4" fill="#111" stroke="#111" stroke-width="0.15" text-anchor="middle" transform="rotate(-90 525.60 465.50)">CD4 +</text>
<text x="537.40" y="464.90" font-size="9.4" fill="#111" stroke="#111" stroke-width="0.15" text-anchor="middle" transform="rotate(-90 537.40 464.90)">(% of viable)</text>
<line x1="617.30" y1="410.30" x2="638.80" y2="410.30" stroke="#111" stroke-width="1.4" />
<text x="628.05" y="411.70" font-size="11.5" fill="#111" stroke="#111" stroke-width="0.15" text-anchor="middle" font-weight="bold">***</text>
<text x="208.20" y="627.90" font-size="12.8" fill="#222" stroke="#222" stroke-width="0.15">I.</text>
<line x1="251.40" y1="623.70" x2="251.40" y2="715.20" stroke="#222" stroke-width="1.3" />
<line x1="250.80" y1="714.60" x2="341.00" y2="714.60" stroke="#222" stroke-width="1.3" />
<line x1="244.40" y1="714.60" x2="251.40" y2="714.60" stroke="#222" stroke-width="1.3" />
<text x="241.10" y="717.98" font-size="9.4" fill="#111" stroke="#111" stroke-width="0.15" text-anchor="end">0</text>
<line x1="244.40" y1="684.30" x2="251.40" y2="684.30" stroke="#222" stroke-width="1.3" />
<text x="241.10" y="687.68" font-size="9.4" fill="#111" stroke="#111" stroke-width="0.15" text-anchor="end">5</text>
<line x1="244.40" y1="654.00" x2="251.40" y2="654.00" stroke="#222" stroke-width="1.3" />
<text x="241.10" y="657.38" font-size="9.4" fill="#111" stroke="#111" stroke-width="0.15" text-anchor="end">10</text>
<line x1="244.40" y1="623.70" x2="251.40" y2="623.70" stroke="#222" stroke-width="1.3" />
<text x="241.10" y="627.08" font-size="9.4" fill="#111" stroke="#111" stroke-width="0.15" text-anchor="end">15</text>
<line x1="265.00" y1="714.60" x2="265.00" y2="721.60" stroke="#222" stroke-width="1.3" />
<text x="267.30" y="730.60" font-size="10.0" fill="#111" stroke="#111" stroke-width="0.24" text-anchor="end" transform="rotate(-45 267.30 730.60)">vehicle</text>
<line x1="285.90" y1="714.60" x2="285.90" y2="721.60" stroke="#222" stroke-width="1.3" />
<text x="288.20" y="730.60" font-size="10.0" fill="#111" stroke="#111" stroke-width="0.24" text-anchor="end" transform="rotate(-45 288.20 730.60)">0.1 mg/kg talazoparib</text>
<line x1="306.80" y1="714.60" x2="306.80" y2="721.60" stroke="#222" stroke-width="1.3" />
<text x="309.10" y="730.60" font-size="10.0" fill="#111" stroke="#111" stroke-width="0.24" text-anchor="end" transform="rotate(-45 309.10 730.60)">RT3D 1 x10<tspan font-size="7.00" dy="-3.80">6</tspan><tspan dy="3.80"> pfu</tspan></text>
<line x1="327.70" y1="714.60" x2="327.70" y2="721.60" stroke="#222" stroke-width="1.3" />
<text x="332.50" y="737.10" font-size="10.0" fill="#111" stroke="#111" stroke-width="0.24" text-anchor="end" transform="rotate(-45 332.50 737.10)">RT3D + talazoparib</text>
<line x1="258.00" y1="676.00" x2="272.00" y2="676.00" stroke="#111" stroke-width="2.0" />
<line x1="265.00" y1="672.97" x2="265.00" y2="679.03" stroke="#222" stroke-width="1.1" />
<line x1="261.20" y1="672.97" x2="268.80" y2="672.97" stroke="#222" stroke-width="1.1" />
<line x1="261.20" y1="679.03" x2="268.80" y2="679.03" stroke="#222" stroke-width="1.1" />
<line x1="278.90" y1="678.42" x2="292.90" y2="678.42" stroke="#111" stroke-width="2.0" />
<line x1="285.90" y1="672.66" x2="285.90" y2="684.18" stroke="#222" stroke-width="1.1" />
<line x1="282.10" y1="672.66" x2="289.70" y2="672.66" stroke="#222" stroke-width="1.1" />
<line x1="282.10" y1="684.18" x2="289.70" y2="684.18" stroke="#222" stroke-width="1.1" />
<line x1="299.80" y1="676.42" x2="313.80" y2="676.42" stroke="#111" stroke-width="2.0" />
<line x1="306.80" y1="672.79" x2="306.80" y2="680.06" stroke="#222" stroke-width="1.1" />
<line x1="303.00" y1="672.79" x2="310.60" y2="672.79" stroke="#222" stroke-width="1.1" />
<line x1="303.00" y1="680.06" x2="310.60" y2="680.06" stroke="#222" stroke-width="1.1" />
<line x1="320.70" y1="650.12" x2="334.70" y2="650.12" stroke="#111" stroke-width="2.0" />
<line x1="327.70" y1="642.06" x2="327.70" y2="658.18" stroke="#222" stroke-width="1.1" />
<line x1="323.90" y1="642.06" x2="331.50" y2="642.06" stroke="#222" stroke-width="1.1" />
<line x1="323.90" y1="658.18" x2="331.50" y2="658.18" stroke="#222" stroke-width="1.1" />
<circle cx="263.10" cy="667.15" r="2.8" fill="#9538F5" stroke="none" stroke-width="0"/>
<circle cx="267.10" cy="670.36" r="2.8" fill="#9538F5" stroke="none" stroke-width="0"/>
<circle cx="265.20" cy="676.79" r="2.8" fill="#9538F5" stroke="none" stroke-width="0"/>
<circle cx="260.70" cy="682.48" r="2.8" fill="#9538F5" stroke="none" stroke-width="0"/>
<circle cx="269.20" cy="682.48" r="2.8" fill="#9538F5" stroke="none" stroke-width="0"/>
<circle cx="281.60" cy="663.51" r="2.8" fill="#FF900A" stroke="none" stroke-width="0"/>
<circle cx="290.10" cy="668.06" r="2.8" fill="#FF900A" stroke="none" stroke-width="0"/>
<circle cx="281.60" cy="681.27" r="2.8" fill="#FF900A" stroke="none" stroke-width="0"/>
<circle cx="290.10" cy="684.60" r="2.8" fill="#FF900A" stroke="none" stroke-width="0"/>
<circle cx="285.70" cy="694.00" r="2.8" fill="#FF900A" stroke="none" stroke-width="0"/>
<circle cx="302.40" cy="666.12" r="2.8" fill="#0B3DFF" stroke="none" stroke-width="0"/>
<circle cx="311.10" cy="671.15" r="2.8" fill="#0B3DFF" stroke="none" stroke-width="0"/>
<circle cx="306.80" cy="676.79" r="2.8" fill="#0B3DFF" stroke="none" stroke-width="0"/>
<circle cx="302.40" cy="685.33" r="2.8" fill="#0B3DFF" stroke="none" stroke-width="0"/>
<circle cx="311.10" cy="683.69" r="2.8" fill="#0B3DFF" stroke="none" stroke-width="0"/>
<circle cx="327.70" cy="631.09" r="2.8" fill="#FF2D0A" stroke="none" stroke-width="0"/>
<circle cx="331.70" cy="638.85" r="2.8" fill="#FF2D0A" stroke="none" stroke-width="0"/>
<circle cx="323.00" cy="643.39" r="2.8" fill="#FF2D0A" stroke="none" stroke-width="0"/>
<circle cx="327.70" cy="665.33" r="2.8" fill="#FF2D0A" stroke="none" stroke-width="0"/>
<circle cx="327.70" cy="672.79" r="2.8" fill="#FF2D0A" stroke="none" stroke-width="0"/>
<text x="225.60" y="679.00" font-size="9.4" fill="#111" stroke="#111" stroke-width="0.15" text-anchor="middle" transform="rotate(-90 225.60 679.00)">foxp3+ CD4+</text>
<line x1="303.30" y1="624.30" x2="324.90" y2="624.30" stroke="#111" stroke-width="1.4" />
<text x="314.10" y="625.70" font-size="11.5" fill="#111" stroke="#111" stroke-width="0.15" text-anchor="middle" font-weight="bold">*</text>
<text x="353.20" y="627.60" font-size="12.8" fill="#222" stroke="#222" stroke-width="0.15">J.</text>
<line x1="414.00" y1="620.00" x2="414.00" y2="711.00" stroke="#222" stroke-width="1.3" />
<line x1="413.40" y1="710.40" x2="502.90" y2="710.40" stroke="#222" stroke-width="1.3" />
<line x1="407.00" y1="710.40" x2="414.00" y2="710.40" stroke="#222" stroke-width="1.3" />
<text x="403.70" y="713.78" font-size="9.4" fill="#111" stroke="#111" stroke-width="0.15" text-anchor="end">0</text>
<line x1="407.00" y1="692.32" x2="414.00" y2="692.32" stroke="#222" stroke-width="1.3" />
<text x="403.70" y="695.70" font-size="9.4" fill="#111" stroke="#111" stroke-width="0.15" text-anchor="end">5</text>
<line x1="407.00" y1="674.24" x2="414.00" y2="674.24" stroke="#222" stroke-width="1.3" />
<text x="403.70" y="677.62" font-size="9.4" fill="#111" stroke="#111" stroke-width="0.15" text-anchor="end">10</text>
<line x1="407.00" y1="656.16" x2="414.00" y2="656.16" stroke="#222" stroke-width="1.3" />
<text x="403.70" y="659.54" font-size="9.4" fill="#111" stroke="#111" stroke-width="0.15" text-anchor="end">15</text>
<line x1="407.00" y1="638.08" x2="414.00" y2="638.08" stroke="#222" stroke-width="1.3" />
<text x="403.70" y="641.46" font-size="9.4" fill="#111" stroke="#111" stroke-width="0.15" text-anchor="end">20</text>
<line x1="407.00" y1="620.00" x2="414.00" y2="620.00" stroke="#222" stroke-width="1.3" />
<text x="403.70" y="623.38" font-size="9.4" fill="#111" stroke="#111" stroke-width="0.15" text-anchor="end">25</text>
<line x1="427.60" y1="710.40" x2="427.60" y2="717.40" stroke="#222" stroke-width="1.3" />
<text x="429.90" y="726.40" font-size="10.0" fill="#111" stroke="#111" stroke-width="0.24" text-anchor="end" transform="rotate(-45 429.90 726.40)">vehicle</text>
<line x1="448.30" y1="710.40" x2="448.30" y2="717.40" stroke="#222" stroke-width="1.3" />
<text x="450.60" y="726.40" font-size="10.0" fill="#111" stroke="#111" stroke-width="0.24" text-anchor="end" transform="rotate(-45 450.60 726.40)">0.1 mg/kg talazoparib</text>
<line x1="468.90" y1="710.40" x2="468.90" y2="717.40" stroke="#222" stroke-width="1.3" />
<text x="471.20" y="726.40" font-size="10.0" fill="#111" stroke="#111" stroke-width="0.24" text-anchor="end" transform="rotate(-45 471.20 726.40)">RT3D 1 x10<tspan font-size="7.00" dy="-3.80">6</tspan><tspan dy="3.80"> pfu</tspan></text>
<line x1="489.70" y1="710.40" x2="489.70" y2="717.40" stroke="#222" stroke-width="1.3" />
<text x="494.50" y="732.90" font-size="10.0" fill="#111" stroke="#111" stroke-width="0.24" text-anchor="end" transform="rotate(-45 494.50 732.90)">RT3D + talazoparib</text>
<line x1="420.60" y1="702.08" x2="434.60" y2="702.08" stroke="#111" stroke-width="2.0" />
<line x1="427.60" y1="701.36" x2="427.60" y2="702.81" stroke="#222" stroke-width="1.1" />
<line x1="423.80" y1="701.36" x2="431.40" y2="701.36" stroke="#222" stroke-width="1.1" />
<line x1="423.80" y1="702.81" x2="431.40" y2="702.81" stroke="#222" stroke-width="1.1" />
<line x1="441.30" y1="700.38" x2="455.30" y2="700.38" stroke="#111" stroke-width="2.0" />
<line x1="448.30" y1="698.76" x2="448.30" y2="702.01" stroke="#222" stroke-width="1.1" />
<line x1="444.50" y1="698.76" x2="452.10" y2="698.76" stroke="#222" stroke-width="1.1" />
<line x1="444.50" y1="702.01" x2="452.10" y2="702.01" stroke="#222" stroke-width="1.1" />
<line x1="461.90" y1="687.98" x2="475.90" y2="687.98" stroke="#111" stroke-width="2.0" />
<line x1="468.90" y1="686.72" x2="468.90" y2="689.25" stroke="#222" stroke-width="1.1" />
<line x1="465.10" y1="686.72" x2="472.70" y2="686.72" stroke="#222" stroke-width="1.1" />
<line x1="465.10" y1="689.25" x2="472.70" y2="689.25" stroke="#222" stroke-width="1.1" />
<line x1="482.70" y1="666.28" x2="496.70" y2="666.28" stroke="#111" stroke-width="2.0" />
<line x1="489.70" y1="659.41" x2="489.70" y2="673.16" stroke="#222" stroke-width="1.1" />
<line x1="485.90" y1="659.41" x2="493.50" y2="659.41" stroke="#222" stroke-width="1.1" />
<line x1="485.90" y1="673.16" x2="493.50" y2="673.16" stroke="#222" stroke-width="1.1" />
<circle cx="423.10" cy="703.17" r="2.8" fill="#9538F5" stroke="none" stroke-width="0"/>
<circle cx="425.50" cy="699.91" r="2.8" fill="#9538F5" stroke="none" stroke-width="0"/>
<circle cx="427.90" cy="702.30" r="2.8" fill="#9538F5" stroke="none" stroke-width="0"/>
<circle cx="430.30" cy="701.50" r="2.8" fill="#9538F5" stroke="none" stroke-width="0"/>
<circle cx="431.90" cy="703.89" r="2.8" fill="#9538F5" stroke="none" stroke-width="0"/>
<circle cx="444.00" cy="694.31" r="2.8" fill="#FF900A" stroke="none" stroke-width="0"/>
<circle cx="446.40" cy="699.19" r="2.8" fill="#FF900A" stroke="none" stroke-width="0"/>
<circle cx="444.00" cy="703.53" r="2.8" fill="#FF900A" stroke="none" stroke-width="0"/>
<circle cx="452.00" cy="702.30" r="2.8" fill="#FF900A" stroke="none" stroke-width="0"/>
<circle cx="449.60" cy="702.81" r="2.8" fill="#FF900A" stroke="none" stroke-width="0"/>
<circle cx="464.40" cy="685.20" r="2.8" fill="#0B3DFF" stroke="none" stroke-width="0"/>
<circle cx="473.20" cy="683.64" r="2.8" fill="#0B3DFF" stroke="none" stroke-width="0"/>
<circle cx="464.40" cy="689.43" r="2.8" fill="#0B3DFF" stroke="none" stroke-width="0"/>
<circle cx="473.20" cy="688.34" r="2.8" fill="#0B3DFF" stroke="none" stroke-width="0"/>
<circle cx="468.90" cy="686.90" r="2.8" fill="#0B3DFF" stroke="none" stroke-width="0"/>
<circle cx="489.70" cy="641.33" r="2.8" fill="#FF2D0A" stroke="none" stroke-width="0"/>
<circle cx="489.70" cy="661.69" r="2.8" fill="#FF2D0A" stroke="none" stroke-width="0"/>
<circle cx="489.70" cy="666.65" r="2.8" fill="#FF2D0A" stroke="none" stroke-width="0"/>
<circle cx="485.50" cy="679.48" r="2.8" fill="#FF2D0A" stroke="none" stroke-width="0"/>
<circle cx="494.00" cy="679.48" r="2.8" fill="#FF2D0A" stroke="none" stroke-width="0"/>
<text x="377.50" y="672.90" font-size="9.4" fill="#111" stroke="#111" stroke-width="0.15" text-anchor="middle" transform="rotate(-90 377.50 672.90)">PD-L1 %</text>
<text x="389.20" y="673.80" font-size="9.4" fill="#111" stroke="#111" stroke-width="0.15" text-anchor="middle" transform="rotate(-90 389.20 673.80)">% of viable</text>
<line x1="470.80" y1="628.80" x2="492.20" y2="628.80" stroke="#111" stroke-width="1.4" />
<text x="481.50" y="630.20" font-size="11.5" fill="#111" stroke="#111" stroke-width="0.15" text-anchor="middle" font-weight="bold">*</text>
<line x1="564.30" y1="620.00" x2="564.30" y2="711.00" stroke="#222" stroke-width="1.3" />
<line x1="563.70" y1="710.40" x2="653.30" y2="710.40" stroke="#222" stroke-width="1.3" />
<line x1="557.30" y1="710.40" x2="564.30" y2="710.40" stroke="#222" stroke-width="1.3" />
<text x="554.00" y="713.78" font-size="9.4" fill="#111" stroke="#111" stroke-width="0.15" text-anchor="end">0</text>
<line x1="557.30" y1="687.80" x2="564.30" y2="687.80" stroke="#222" stroke-width="1.3" />
<text x="554.00" y="691.18" font-size="9.4" fill="#111" stroke="#111" stroke-width="0.15" text-anchor="end">10</text>
<line x1="557.30" y1="665.20" x2="564.30" y2="665.20" stroke="#222" stroke-width="1.3" />
<text x="554.00" y="668.58" font-size="9.4" fill="#111" stroke="#111" stroke-width="0.15" text-anchor="end">20</text>
<line x1="557.30" y1="642.60" x2="564.30" y2="642.60" stroke="#222" stroke-width="1.3" />
<text x="554.00" y="645.98" font-size="9.4" fill="#111" stroke="#111" stroke-width="0.15" text-anchor="end">30</text>
<line x1="557.30" y1="620.00" x2="564.30" y2="620.00" stroke="#222" stroke-width="1.3" />
<text x="554.00" y="623.38" font-size="9.4" fill="#111" stroke="#111" stroke-width="0.15" text-anchor="end">40</text>
<line x1="578.00" y1="710.40" x2="578.00" y2="717.40" stroke="#222" stroke-width="1.3" />
<text x="580.30" y="726.40" font-size="10.0" fill="#111" stroke="#111" stroke-width="0.24" text-anchor="end" transform="rotate(-45 580.30 726.40)">vehicle</text>
<line x1="598.70" y1="710.40" x2="598.70" y2="717.40" stroke="#222" stroke-width="1.3" />
<text x="601.00" y="726.40" font-size="10.0" fill="#111" stroke="#111" stroke-width="0.24" text-anchor="end" transform="rotate(-45 601.00 726.40)">0.1 mg/kg talazoparib</text>
<line x1="619.20" y1="710.40" x2="619.20" y2="717.40" stroke="#222" stroke-width="1.3" />
<text x="621.50" y="726.40" font-size="10.0" fill="#111" stroke="#111" stroke-width="0.24" text-anchor="end" transform="rotate(-45 621.50 726.40)">RT3D 1 x10<tspan font-size="7.00" dy="-3.80">6</tspan><tspan dy="3.80"> pfu</tspan></text>
<line x1="640.10" y1="710.40" x2="640.10" y2="717.40" stroke="#222" stroke-width="1.3" />
<text x="644.90" y="732.90" font-size="10.0" fill="#111" stroke="#111" stroke-width="0.24" text-anchor="end" transform="rotate(-45 644.90 732.90)">RT3D + talazoparib</text>
<line x1="571.00" y1="693.22" x2="585.00" y2="693.22" stroke="#111" stroke-width="2.0" />
<line x1="578.00" y1="691.98" x2="578.00" y2="694.47" stroke="#222" stroke-width="1.1" />
<line x1="574.20" y1="691.98" x2="581.80" y2="691.98" stroke="#222" stroke-width="1.1" />
<line x1="574.20" y1="694.47" x2="581.80" y2="694.47" stroke="#222" stroke-width="1.1" />
<line x1="591.70" y1="688.70" x2="605.70" y2="688.70" stroke="#111" stroke-width="2.0" />
<line x1="598.70" y1="687.35" x2="598.70" y2="690.06" stroke="#222" stroke-width="1.1" />
<line x1="594.90" y1="687.35" x2="602.50" y2="687.35" stroke="#222" stroke-width="1.1" />
<line x1="594.90" y1="690.06" x2="602.50" y2="690.06" stroke="#222" stroke-width="1.1" />
<line x1="612.20" y1="666.33" x2="626.20" y2="666.33" stroke="#111" stroke-width="2.0" />
<line x1="619.20" y1="663.84" x2="619.20" y2="668.82" stroke="#222" stroke-width="1.1" />
<line x1="615.40" y1="663.84" x2="623.00" y2="663.84" stroke="#222" stroke-width="1.1" />
<line x1="615.40" y1="668.82" x2="623.00" y2="668.82" stroke="#222" stroke-width="1.1" />
<line x1="633.10" y1="656.39" x2="647.10" y2="656.39" stroke="#111" stroke-width="2.0" />
<line x1="640.10" y1="649.38" x2="640.10" y2="663.39" stroke="#222" stroke-width="1.1" />
<line x1="636.30" y1="649.38" x2="643.90" y2="649.38" stroke="#222" stroke-width="1.1" />
<line x1="636.30" y1="663.39" x2="643.90" y2="663.39" stroke="#222" stroke-width="1.1" />
<circle cx="574.00" cy="691.87" r="2.8" fill="#9538F5" stroke="none" stroke-width="0"/>
<circle cx="579.10" cy="690.29" r="2.8" fill="#9538F5" stroke="none" stroke-width="0"/>
<circle cx="582.30" cy="693.22" r="2.8" fill="#9538F5" stroke="none" stroke-width="0"/>
<circle cx="574.00" cy="697.07" r="2.8" fill="#9538F5" stroke="none" stroke-width="0"/>
<circle cx="579.10" cy="695.03" r="2.8" fill="#9538F5" stroke="none" stroke-width="0"/>
<circle cx="594.30" cy="684.64" r="2.8" fill="#FF900A" stroke="none" stroke-width="0"/>
<circle cx="598.40" cy="687.12" r="2.8" fill="#FF900A" stroke="none" stroke-width="0"/>
<circle cx="603.20" cy="688.93" r="2.8" fill="#FF900A" stroke="none" stroke-width="0"/>
<circle cx="594.30" cy="692.21" r="2.8" fill="#FF900A" stroke="none" stroke-width="0"/>
<circle cx="600.00" cy="690.29" r="2.8" fill="#FF900A" stroke="none" stroke-width="0"/>
<circle cx="619.20" cy="656.84" r="2.8" fill="#0B3DFF" stroke="none" stroke-width="0"/>
<circle cx="615.20" cy="664.52" r="2.8" fill="#0B3DFF" stroke="none" stroke-width="0"/>
<circle cx="619.80" cy="666.56" r="2.8" fill="#0B3DFF" stroke="none" stroke-width="0"/>
<circle cx="623.50" cy="667.69" r="2.8" fill="#0B3DFF" stroke="none" stroke-width="0"/>
<circle cx="615.20" cy="672.21" r="2.8" fill="#0B3DFF" stroke="none" stroke-width="0"/>
<circle cx="640.10" cy="630.85" r="2.8" fill="#FF2D0A" stroke="none" stroke-width="0"/>
<circle cx="640.10" cy="653.67" r="2.8" fill="#FF2D0A" stroke="none" stroke-width="0"/>
<circle cx="640.10" cy="660.23" r="2.8" fill="#FF2D0A" stroke="none" stroke-width="0"/>
<circle cx="635.80" cy="669.49" r="2.8" fill="#FF2D0A" stroke="none" stroke-width="0"/>
<circle cx="644.40" cy="667.46" r="2.8" fill="#FF2D0A" stroke="none" stroke-width="0"/>
<text x="527.20" y="673.50" font-size="9.4" fill="#111" stroke="#111" stroke-width="0.15" text-anchor="middle" transform="rotate(-90 527.20 673.50)">PD-1 +</text>
<text x="538.70" y="673.50" font-size="9.4" fill="#111" stroke="#111" stroke-width="0.15" text-anchor="middle" transform="rotate(-90 538.70 673.50)">(% of viable)</text>
</svg>
</body></html>
